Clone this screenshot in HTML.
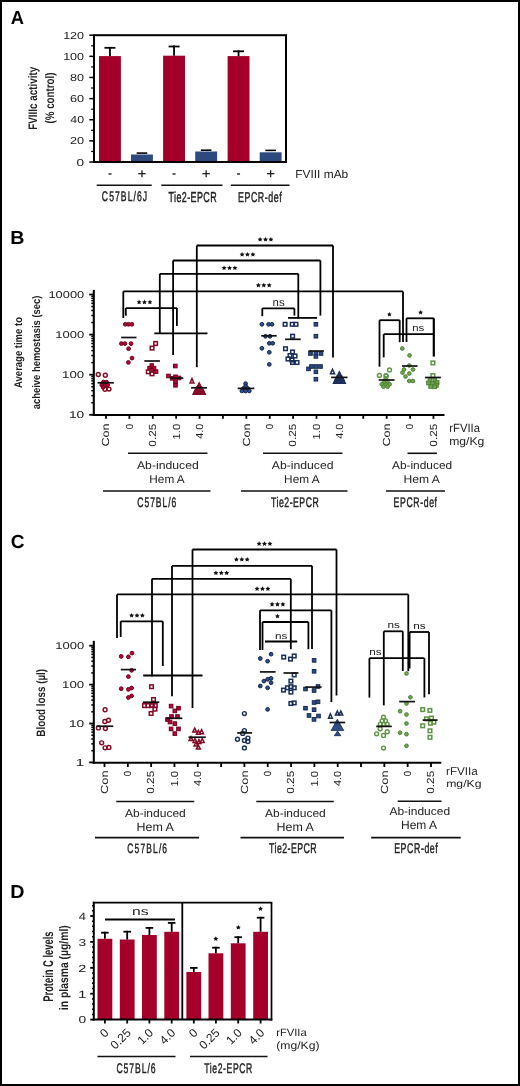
<!DOCTYPE html>
<html><head><meta charset="utf-8"><style>
html,body{margin:0;padding:0;background:#fff;}
body{width:520px;height:1086px;overflow:hidden;font-family:"Liberation Sans",sans-serif;}
svg{display:block;will-change:transform;}
</style></head><body>
<svg width="520" height="1086" viewBox="0 0 520 1086" text-rendering="geometricPrecision">
<rect x="0" y="0" width="520" height="1086" fill="#fff"/>
<text x="10.84" y="23.50" font-family='"Liberation Sans", sans-serif' font-size="19.04" font-weight="bold" fill="#000" textLength="13.24" lengthAdjust="spacingAndGlyphs">A</text>
<text x="10.18" y="244.20" font-family='"Liberation Sans", sans-serif' font-size="18.75" font-weight="bold" fill="#000" textLength="14.21" lengthAdjust="spacingAndGlyphs">B</text>
<text x="10.72" y="548.41" font-family='"Liberation Sans", sans-serif' font-size="18.93" font-weight="bold" fill="#000" textLength="13.80" lengthAdjust="spacingAndGlyphs">C</text>
<text x="10.18" y="898.10" font-family='"Liberation Sans", sans-serif' font-size="18.75" font-weight="bold" fill="#000" textLength="14.25" lengthAdjust="spacingAndGlyphs">D</text>
<rect x="99.00" y="56.10" width="21.90" height="105.90" fill="#A4002A"/>
<line x1="109.95" y1="46.90" x2="109.95" y2="56.10" stroke="#000" stroke-width="1.8"/>
<line x1="104.45" y1="47.80" x2="115.45" y2="47.80" stroke="#000" stroke-width="1.8"/>
<rect x="163.10" y="55.70" width="21.90" height="106.30" fill="#A4002A"/>
<line x1="174.05" y1="45.60" x2="174.05" y2="55.70" stroke="#000" stroke-width="1.8"/>
<line x1="168.55" y1="46.50" x2="179.55" y2="46.50" stroke="#000" stroke-width="1.8"/>
<rect x="227.60" y="56.10" width="21.90" height="105.90" fill="#A4002A"/>
<line x1="238.55" y1="50.40" x2="238.55" y2="56.10" stroke="#000" stroke-width="1.8"/>
<line x1="233.05" y1="51.30" x2="244.05" y2="51.30" stroke="#000" stroke-width="1.8"/>
<rect x="131.00" y="154.50" width="21.90" height="7.50" fill="#2C4A7E"/>
<line x1="136.65" y1="153.10" x2="147.25" y2="153.10" stroke="#000" stroke-width="1.6"/>
<rect x="195.20" y="151.50" width="21.90" height="10.50" fill="#2C4A7E"/>
<line x1="200.85" y1="150.20" x2="211.45" y2="150.20" stroke="#000" stroke-width="1.6"/>
<rect x="259.70" y="152.30" width="21.90" height="9.70" fill="#2C4A7E"/>
<line x1="265.35" y1="150.40" x2="275.95" y2="150.40" stroke="#000" stroke-width="1.6"/>
<rect x="94" y="35.2" width="192" height="126.8" fill="none" stroke="#000" stroke-width="2"/>
<line x1="89.30" y1="162.00" x2="94.00" y2="162.00" stroke="#000" stroke-width="1.5"/>
<line x1="91.20" y1="151.43" x2="94.00" y2="151.43" stroke="#000" stroke-width="1.3"/>
<line x1="89.30" y1="140.87" x2="94.00" y2="140.87" stroke="#000" stroke-width="1.5"/>
<line x1="91.20" y1="130.30" x2="94.00" y2="130.30" stroke="#000" stroke-width="1.3"/>
<line x1="89.30" y1="119.73" x2="94.00" y2="119.73" stroke="#000" stroke-width="1.5"/>
<line x1="91.20" y1="109.17" x2="94.00" y2="109.17" stroke="#000" stroke-width="1.3"/>
<line x1="89.30" y1="98.60" x2="94.00" y2="98.60" stroke="#000" stroke-width="1.5"/>
<line x1="91.20" y1="88.03" x2="94.00" y2="88.03" stroke="#000" stroke-width="1.3"/>
<line x1="89.30" y1="77.47" x2="94.00" y2="77.47" stroke="#000" stroke-width="1.5"/>
<line x1="91.20" y1="66.90" x2="94.00" y2="66.90" stroke="#000" stroke-width="1.3"/>
<line x1="89.30" y1="56.33" x2="94.00" y2="56.33" stroke="#000" stroke-width="1.5"/>
<line x1="91.20" y1="45.77" x2="94.00" y2="45.77" stroke="#000" stroke-width="1.3"/>
<line x1="89.30" y1="35.20" x2="94.00" y2="35.20" stroke="#000" stroke-width="1.5"/>
<text x="76.57" y="165.50" font-family='"Liberation Sans", sans-serif' font-size="10.17" font-weight="normal" fill="#222" textLength="7.56" lengthAdjust="spacingAndGlyphs">0</text>
<text x="69.96" y="144.36" font-family='"Liberation Sans", sans-serif' font-size="10.17" font-weight="normal" fill="#222" textLength="14.13" lengthAdjust="spacingAndGlyphs">20</text>
<text x="70.32" y="123.23" font-family='"Liberation Sans", sans-serif' font-size="10.17" font-weight="normal" fill="#222" textLength="13.77" lengthAdjust="spacingAndGlyphs">40</text>
<text x="69.95" y="102.10" font-family='"Liberation Sans", sans-serif' font-size="10.17" font-weight="normal" fill="#222" textLength="14.15" lengthAdjust="spacingAndGlyphs">60</text>
<text x="70.06" y="80.96" font-family='"Liberation Sans", sans-serif' font-size="10.17" font-weight="normal" fill="#222" textLength="14.04" lengthAdjust="spacingAndGlyphs">80</text>
<text x="63.15" y="59.83" font-family='"Liberation Sans", sans-serif' font-size="10.17" font-weight="normal" fill="#222" textLength="20.95" lengthAdjust="spacingAndGlyphs">100</text>
<text x="63.15" y="38.70" font-family='"Liberation Sans", sans-serif' font-size="10.17" font-weight="normal" fill="#222" textLength="20.95" lengthAdjust="spacingAndGlyphs">120</text>
<text transform="translate(36.64,129.86) rotate(-90)" x="0" y="0" font-family='"Liberation Sans", sans-serif' font-size="12.33" font-weight="bold" fill="#222" textLength="63.02" lengthAdjust="spacingAndGlyphs">FVIIIc activity</text>
<text transform="translate(53.61,123.49) rotate(-90)" x="0" y="0" font-family='"Liberation Sans", sans-serif' font-size="12.43" font-weight="bold" fill="#222" textLength="50.97" lengthAdjust="spacingAndGlyphs">(% control)</text>
<rect x="108.45" y="173.30" width="3.00" height="1.40" fill="#222"/>
<rect x="172.55" y="173.30" width="3.00" height="1.40" fill="#222"/>
<rect x="237.05" y="173.30" width="3.00" height="1.40" fill="#222"/>
<rect x="138.25" y="173.00" width="7.40" height="1.30" fill="#222"/>
<rect x="141.30" y="170.20" width="1.30" height="7.00" fill="#222"/>
<rect x="202.45" y="173.00" width="7.40" height="1.30" fill="#222"/>
<rect x="205.50" y="170.20" width="1.30" height="7.00" fill="#222"/>
<rect x="266.95" y="173.00" width="7.40" height="1.30" fill="#222"/>
<rect x="270.00" y="170.20" width="1.30" height="7.00" fill="#222"/>
<text x="295.32" y="177.58" font-family='"Liberation Sans", sans-serif' font-size="11.56" font-weight="normal" fill="#222" textLength="52.88" lengthAdjust="spacingAndGlyphs">FVIII mAb</text>
<line x1="96.70" y1="185.20" x2="151.70" y2="185.20" stroke="#111" stroke-width="1.5"/>
<line x1="161.30" y1="185.20" x2="222.50" y2="185.20" stroke="#111" stroke-width="1.5"/>
<line x1="230.80" y1="185.20" x2="289.50" y2="185.20" stroke="#111" stroke-width="1.5"/>
<text transform="scale(0.62,1)" x="164.29" y="200.66" font-family='"Liberation Sans", sans-serif' font-size="13.88" font-weight="normal" fill="#222" stroke="#222" stroke-width="0.45" textLength="73.02" lengthAdjust="spacing">C57BL/6J</text>
<text transform="scale(0.62,1)" x="271.78" y="201.76" font-family='"Liberation Sans", sans-serif' font-size="14.42" font-weight="normal" fill="#222" stroke="#222" stroke-width="0.45" textLength="77.62" lengthAdjust="spacing">Tie2-EPCR</text>
<text transform="scale(0.62,1)" x="383.83" y="201.76" font-family='"Liberation Sans", sans-serif' font-size="14.29" font-weight="normal" fill="#222" stroke="#222" stroke-width="0.45" textLength="70.67" lengthAdjust="spacing">EPCR-def</text>
<line x1="93.80" y1="289.90" x2="93.80" y2="416.00" stroke="#000" stroke-width="2.1"/>
<line x1="92.80" y1="415.00" x2="444.50" y2="415.00" stroke="#000" stroke-width="2.1"/>
<line x1="89.20" y1="414.80" x2="93.80" y2="414.80" stroke="#000" stroke-width="1.8"/>
<line x1="91.30" y1="402.73" x2="93.80" y2="402.73" stroke="#000" stroke-width="1.5"/>
<line x1="91.30" y1="395.67" x2="93.80" y2="395.67" stroke="#000" stroke-width="1.5"/>
<line x1="91.30" y1="390.66" x2="93.80" y2="390.66" stroke="#000" stroke-width="1.5"/>
<line x1="91.30" y1="386.77" x2="93.80" y2="386.77" stroke="#000" stroke-width="1.5"/>
<line x1="91.30" y1="383.60" x2="93.80" y2="383.60" stroke="#000" stroke-width="1.5"/>
<line x1="91.30" y1="380.91" x2="93.80" y2="380.91" stroke="#000" stroke-width="1.5"/>
<line x1="91.30" y1="378.59" x2="93.80" y2="378.59" stroke="#000" stroke-width="1.5"/>
<line x1="91.30" y1="376.53" x2="93.80" y2="376.53" stroke="#000" stroke-width="1.5"/>
<line x1="89.20" y1="374.70" x2="93.80" y2="374.70" stroke="#000" stroke-width="1.8"/>
<line x1="91.30" y1="362.63" x2="93.80" y2="362.63" stroke="#000" stroke-width="1.5"/>
<line x1="91.30" y1="355.57" x2="93.80" y2="355.57" stroke="#000" stroke-width="1.5"/>
<line x1="91.30" y1="350.56" x2="93.80" y2="350.56" stroke="#000" stroke-width="1.5"/>
<line x1="91.30" y1="346.67" x2="93.80" y2="346.67" stroke="#000" stroke-width="1.5"/>
<line x1="91.30" y1="343.50" x2="93.80" y2="343.50" stroke="#000" stroke-width="1.5"/>
<line x1="91.30" y1="340.81" x2="93.80" y2="340.81" stroke="#000" stroke-width="1.5"/>
<line x1="91.30" y1="338.49" x2="93.80" y2="338.49" stroke="#000" stroke-width="1.5"/>
<line x1="91.30" y1="336.43" x2="93.80" y2="336.43" stroke="#000" stroke-width="1.5"/>
<line x1="89.20" y1="334.60" x2="93.80" y2="334.60" stroke="#000" stroke-width="1.8"/>
<line x1="91.30" y1="322.53" x2="93.80" y2="322.53" stroke="#000" stroke-width="1.5"/>
<line x1="91.30" y1="315.47" x2="93.80" y2="315.47" stroke="#000" stroke-width="1.5"/>
<line x1="91.30" y1="310.46" x2="93.80" y2="310.46" stroke="#000" stroke-width="1.5"/>
<line x1="91.30" y1="306.57" x2="93.80" y2="306.57" stroke="#000" stroke-width="1.5"/>
<line x1="91.30" y1="303.40" x2="93.80" y2="303.40" stroke="#000" stroke-width="1.5"/>
<line x1="91.30" y1="300.71" x2="93.80" y2="300.71" stroke="#000" stroke-width="1.5"/>
<line x1="91.30" y1="298.39" x2="93.80" y2="298.39" stroke="#000" stroke-width="1.5"/>
<line x1="91.30" y1="296.33" x2="93.80" y2="296.33" stroke="#000" stroke-width="1.5"/>
<line x1="89.20" y1="294.50" x2="93.80" y2="294.50" stroke="#000" stroke-width="1.8"/>
<text x="68.96" y="418.20" font-family='"Liberation Sans", sans-serif' font-size="9.89" font-weight="normal" fill="#222" textLength="15.28" lengthAdjust="spacingAndGlyphs">10</text>
<text x="62.14" y="378.10" font-family='"Liberation Sans", sans-serif' font-size="9.89" font-weight="normal" fill="#222" textLength="22.08" lengthAdjust="spacingAndGlyphs">100</text>
<text x="55.31" y="338.00" font-family='"Liberation Sans", sans-serif' font-size="9.89" font-weight="normal" fill="#222" textLength="28.90" lengthAdjust="spacingAndGlyphs">1000</text>
<text x="48.47" y="297.90" font-family='"Liberation Sans", sans-serif' font-size="9.89" font-weight="normal" fill="#222" textLength="35.72" lengthAdjust="spacingAndGlyphs">10000</text>
<text transform="translate(22.17,387.94) rotate(-90)" x="0" y="0" font-family='"Liberation Sans", sans-serif' font-size="10.99" font-weight="bold" fill="#222" textLength="70.90" lengthAdjust="spacingAndGlyphs">Average time to</text>
<text transform="translate(39.60,409.27) rotate(-90)" x="0" y="0" font-family='"Liberation Sans", sans-serif' font-size="11.04" font-weight="bold" fill="#222" textLength="113.65" lengthAdjust="spacingAndGlyphs">acheive hemostasis (sec)</text>
<line x1="106.00" y1="415.00" x2="106.00" y2="418.80" stroke="#000" stroke-width="1.8"/>
<line x1="129.39" y1="415.00" x2="129.39" y2="418.80" stroke="#000" stroke-width="1.8"/>
<line x1="152.78" y1="415.00" x2="152.78" y2="418.80" stroke="#000" stroke-width="1.8"/>
<line x1="176.17" y1="415.00" x2="176.17" y2="418.80" stroke="#000" stroke-width="1.8"/>
<line x1="199.56" y1="415.00" x2="199.56" y2="418.80" stroke="#000" stroke-width="1.8"/>
<line x1="222.95" y1="415.00" x2="222.95" y2="418.80" stroke="#000" stroke-width="1.8"/>
<line x1="246.34" y1="415.00" x2="246.34" y2="418.80" stroke="#000" stroke-width="1.8"/>
<line x1="269.73" y1="415.00" x2="269.73" y2="418.80" stroke="#000" stroke-width="1.8"/>
<line x1="293.12" y1="415.00" x2="293.12" y2="418.80" stroke="#000" stroke-width="1.8"/>
<line x1="316.51" y1="415.00" x2="316.51" y2="418.80" stroke="#000" stroke-width="1.8"/>
<line x1="339.90" y1="415.00" x2="339.90" y2="418.80" stroke="#000" stroke-width="1.8"/>
<line x1="363.29" y1="415.00" x2="363.29" y2="418.80" stroke="#000" stroke-width="1.8"/>
<line x1="386.68" y1="415.00" x2="386.68" y2="418.80" stroke="#000" stroke-width="1.8"/>
<line x1="410.07" y1="415.00" x2="410.07" y2="418.80" stroke="#000" stroke-width="1.8"/>
<line x1="433.46" y1="415.00" x2="433.46" y2="418.80" stroke="#000" stroke-width="1.8"/>
<text transform="translate(109.35,446.54) rotate(-90)" x="0" y="0" font-family='"Liberation Sans", sans-serif' font-size="10.31" font-weight="normal" fill="#222" textLength="23.17" lengthAdjust="spacingAndGlyphs">Con</text>
<text transform="translate(132.74,429.18) rotate(-90)" x="0" y="0" font-family='"Liberation Sans", sans-serif' font-size="10.31" font-weight="normal" fill="#222" textLength="5.35" lengthAdjust="spacingAndGlyphs">0</text>
<text transform="translate(156.13,446.66) rotate(-90)" x="0" y="0" font-family='"Liberation Sans", sans-serif' font-size="10.31" font-weight="normal" fill="#222" textLength="22.96" lengthAdjust="spacingAndGlyphs">0.25</text>
<text transform="translate(179.52,439.46) rotate(-90)" x="0" y="0" font-family='"Liberation Sans", sans-serif' font-size="10.31" font-weight="normal" fill="#222" textLength="15.70" lengthAdjust="spacingAndGlyphs">1.0</text>
<text transform="translate(202.91,438.85) rotate(-90)" x="0" y="0" font-family='"Liberation Sans", sans-serif' font-size="10.31" font-weight="normal" fill="#222" textLength="15.07" lengthAdjust="spacingAndGlyphs">4.0</text>
<text transform="translate(249.69,446.54) rotate(-90)" x="0" y="0" font-family='"Liberation Sans", sans-serif' font-size="10.31" font-weight="normal" fill="#222" textLength="23.17" lengthAdjust="spacingAndGlyphs">Con</text>
<text transform="translate(273.08,429.18) rotate(-90)" x="0" y="0" font-family='"Liberation Sans", sans-serif' font-size="10.31" font-weight="normal" fill="#222" textLength="5.35" lengthAdjust="spacingAndGlyphs">0</text>
<text transform="translate(296.47,446.66) rotate(-90)" x="0" y="0" font-family='"Liberation Sans", sans-serif' font-size="10.31" font-weight="normal" fill="#222" textLength="22.96" lengthAdjust="spacingAndGlyphs">0.25</text>
<text transform="translate(319.86,439.46) rotate(-90)" x="0" y="0" font-family='"Liberation Sans", sans-serif' font-size="10.31" font-weight="normal" fill="#222" textLength="15.70" lengthAdjust="spacingAndGlyphs">1.0</text>
<text transform="translate(343.25,438.85) rotate(-90)" x="0" y="0" font-family='"Liberation Sans", sans-serif' font-size="10.31" font-weight="normal" fill="#222" textLength="15.07" lengthAdjust="spacingAndGlyphs">4.0</text>
<text transform="translate(390.03,446.54) rotate(-90)" x="0" y="0" font-family='"Liberation Sans", sans-serif' font-size="10.31" font-weight="normal" fill="#222" textLength="23.17" lengthAdjust="spacingAndGlyphs">Con</text>
<text transform="translate(413.42,429.18) rotate(-90)" x="0" y="0" font-family='"Liberation Sans", sans-serif' font-size="10.31" font-weight="normal" fill="#222" textLength="5.35" lengthAdjust="spacingAndGlyphs">0</text>
<text transform="translate(436.81,446.66) rotate(-90)" x="0" y="0" font-family='"Liberation Sans", sans-serif' font-size="10.31" font-weight="normal" fill="#222" textLength="22.96" lengthAdjust="spacingAndGlyphs">0.25</text>
<text x="449.25" y="431.68" font-family='"Liberation Sans", sans-serif' font-size="11.89" font-weight="normal" fill="#222" textLength="30.74" lengthAdjust="spacingAndGlyphs">rFVIIa</text>
<text x="449.20" y="445.48" font-family='"Liberation Sans", sans-serif' font-size="11.15" font-weight="normal" fill="#222" textLength="35.18" lengthAdjust="spacingAndGlyphs">mg/Kg</text>
<line x1="128.00" y1="453.30" x2="207.50" y2="453.30" stroke="#111" stroke-width="1.6"/>
<line x1="263.00" y1="453.30" x2="342.50" y2="453.30" stroke="#111" stroke-width="1.6"/>
<line x1="407.50" y1="453.30" x2="436.90" y2="453.30" stroke="#111" stroke-width="1.6"/>
<text x="136.98" y="468.89" font-family='"Liberation Sans", sans-serif' font-size="11.16" font-weight="normal" fill="#222" textLength="61.81" lengthAdjust="spacingAndGlyphs">Ab-induced</text>
<text x="149.33" y="482.89" font-family='"Liberation Sans", sans-serif' font-size="11.46" font-weight="normal" fill="#222" textLength="35.39" lengthAdjust="spacingAndGlyphs">Hem A</text>
<text x="271.78" y="468.89" font-family='"Liberation Sans", sans-serif' font-size="11.16" font-weight="normal" fill="#222" textLength="61.81" lengthAdjust="spacingAndGlyphs">Ab-induced</text>
<text x="284.13" y="482.89" font-family='"Liberation Sans", sans-serif' font-size="11.46" font-weight="normal" fill="#222" textLength="35.39" lengthAdjust="spacingAndGlyphs">Hem A</text>
<text x="391.98" y="468.89" font-family='"Liberation Sans", sans-serif' font-size="11.16" font-weight="normal" fill="#222" textLength="60.19" lengthAdjust="spacingAndGlyphs">Ab-induced</text>
<text x="403.51" y="482.89" font-family='"Liberation Sans", sans-serif' font-size="11.46" font-weight="normal" fill="#222" textLength="36.32" lengthAdjust="spacingAndGlyphs">Hem A</text>
<line x1="103.00" y1="491.00" x2="210.50" y2="491.00" stroke="#111" stroke-width="1.6"/>
<line x1="241.00" y1="491.00" x2="347.50" y2="491.00" stroke="#111" stroke-width="1.6"/>
<line x1="386.00" y1="491.00" x2="445.00" y2="491.00" stroke="#111" stroke-width="1.6"/>
<text transform="scale(0.62,1)" x="221.56" y="506.96" font-family='"Liberation Sans", sans-serif' font-size="13.74" font-weight="normal" fill="#222" stroke="#222" stroke-width="0.45" textLength="62.77" lengthAdjust="spacing">C57BL/6</text>
<text transform="scale(0.62,1)" x="437.27" y="507.06" font-family='"Liberation Sans", sans-serif' font-size="14.01" font-weight="normal" fill="#222" stroke="#222" stroke-width="0.45" textLength="76.78" lengthAdjust="spacing">Tie2-EPCR</text>
<text transform="scale(0.62,1)" x="634.82" y="507.06" font-family='"Liberation Sans", sans-serif' font-size="14.01" font-weight="normal" fill="#222" stroke="#222" stroke-width="0.45" textLength="70.00" lengthAdjust="spacing">EPCR-def</text>
<line x1="196.80" y1="245.50" x2="333.00" y2="245.50" stroke="#000" stroke-width="1.8"/>
<line x1="196.80" y1="245.50" x2="196.80" y2="367.20" stroke="#000" stroke-width="1.8"/>
<line x1="333.00" y1="245.50" x2="333.00" y2="357.60" stroke="#000" stroke-width="1.8"/>
<polygon points="260.10,236.90 260.86,238.45 262.57,238.70 261.34,239.90 261.63,241.60 260.10,240.80 258.57,241.60 258.86,239.90 257.63,238.70 259.34,238.45" fill="#111"/>
<polygon points="265.50,236.90 266.26,238.45 267.97,238.70 266.74,239.90 267.03,241.60 265.50,240.80 263.97,241.60 264.26,239.90 263.03,238.70 264.74,238.45" fill="#111"/>
<polygon points="270.90,236.90 271.66,238.45 273.37,238.70 272.14,239.90 272.43,241.60 270.90,240.80 269.37,241.60 269.66,239.90 268.43,238.70 270.14,238.45" fill="#111"/>
<line x1="173.10" y1="260.50" x2="320.40" y2="260.50" stroke="#000" stroke-width="1.8"/>
<line x1="173.10" y1="260.50" x2="173.10" y2="355.00" stroke="#000" stroke-width="1.8"/>
<line x1="320.40" y1="260.50" x2="320.40" y2="315.60" stroke="#000" stroke-width="1.8"/>
<polygon points="242.10,251.90 242.86,253.45 244.57,253.70 243.34,254.90 243.63,256.60 242.10,255.80 240.57,256.60 240.86,254.90 239.63,253.70 241.34,253.45" fill="#111"/>
<polygon points="247.50,251.90 248.26,253.45 249.97,253.70 248.74,254.90 249.03,256.60 247.50,255.80 245.97,256.60 246.26,254.90 245.03,253.70 246.74,253.45" fill="#111"/>
<polygon points="252.90,251.90 253.66,253.45 255.37,253.70 254.14,254.90 254.43,256.60 252.90,255.80 251.37,256.60 251.66,254.90 250.43,253.70 252.14,253.45" fill="#111"/>
<line x1="159.80" y1="273.80" x2="298.30" y2="273.80" stroke="#000" stroke-width="1.8"/>
<line x1="159.80" y1="273.80" x2="159.80" y2="333.50" stroke="#000" stroke-width="1.8"/>
<line x1="298.30" y1="273.80" x2="298.30" y2="318.50" stroke="#000" stroke-width="1.8"/>
<polygon points="224.10,265.40 224.86,266.95 226.57,267.20 225.34,268.40 225.63,270.10 224.10,269.30 222.57,270.10 222.86,268.40 221.63,267.20 223.34,266.95" fill="#111"/>
<polygon points="229.50,265.40 230.26,266.95 231.97,267.20 230.74,268.40 231.03,270.10 229.50,269.30 227.97,270.10 228.26,268.40 227.03,267.20 228.74,266.95" fill="#111"/>
<polygon points="234.90,265.40 235.66,266.95 237.37,267.20 236.14,268.40 236.43,270.10 234.90,269.30 233.37,270.10 233.66,268.40 232.43,267.20 234.14,266.95" fill="#111"/>
<line x1="123.30" y1="291.40" x2="403.00" y2="291.40" stroke="#000" stroke-width="1.8"/>
<line x1="123.30" y1="291.40" x2="123.30" y2="318.00" stroke="#000" stroke-width="1.8"/>
<line x1="403.00" y1="291.40" x2="403.00" y2="342.00" stroke="#000" stroke-width="1.8"/>
<polygon points="258.40,282.70 259.16,284.25 260.87,284.50 259.64,285.70 259.93,287.40 258.40,286.60 256.87,287.40 257.16,285.70 255.93,284.50 257.64,284.25" fill="#111"/>
<polygon points="263.80,282.70 264.56,284.25 266.27,284.50 265.04,285.70 265.33,287.40 263.80,286.60 262.27,287.40 262.56,285.70 261.33,284.50 263.04,284.25" fill="#111"/>
<polygon points="269.20,282.70 269.96,284.25 271.67,284.50 270.44,285.70 270.73,287.40 269.20,286.60 267.67,287.40 267.96,285.70 266.73,284.50 268.44,284.25" fill="#111"/>
<line x1="125.80" y1="308.10" x2="176.90" y2="308.10" stroke="#000" stroke-width="1.8"/>
<line x1="125.80" y1="308.10" x2="125.80" y2="315.70" stroke="#000" stroke-width="1.8"/>
<line x1="176.90" y1="308.10" x2="176.90" y2="326.00" stroke="#000" stroke-width="1.8"/>
<polygon points="139.10,299.60 139.86,301.15 141.57,301.40 140.34,302.60 140.63,304.30 139.10,303.50 137.57,304.30 137.86,302.60 136.63,301.40 138.34,301.15" fill="#111"/>
<polygon points="144.50,299.60 145.26,301.15 146.97,301.40 145.74,302.60 146.03,304.30 144.50,303.50 142.97,304.30 143.26,302.60 142.03,301.40 143.74,301.15" fill="#111"/>
<polygon points="149.90,299.60 150.66,301.15 152.37,301.40 151.14,302.60 151.43,304.30 149.90,303.50 148.37,304.30 148.66,302.60 147.43,301.40 149.14,301.15" fill="#111"/>
<line x1="154.30" y1="333.40" x2="207.50" y2="333.40" stroke="#000" stroke-width="1.8"/>
<line x1="262.30" y1="308.30" x2="294.40" y2="308.30" stroke="#000" stroke-width="1.8"/>
<line x1="262.30" y1="308.30" x2="262.30" y2="316.20" stroke="#000" stroke-width="1.8"/>
<line x1="294.40" y1="308.30" x2="294.40" y2="315.60" stroke="#000" stroke-width="1.8"/>
<text x="272.55" y="305.89" font-family='"Liberation Sans", sans-serif' font-size="10.95" font-weight="normal" fill="#222" textLength="12.07" lengthAdjust="spacingAndGlyphs">ns</text>
<line x1="288.00" y1="317.90" x2="317.00" y2="317.90" stroke="#000" stroke-width="1.8"/>
<line x1="379.50" y1="320.20" x2="399.70" y2="320.20" stroke="#000" stroke-width="1.8"/>
<line x1="379.50" y1="320.20" x2="379.50" y2="366.70" stroke="#000" stroke-width="1.8"/>
<line x1="399.70" y1="320.20" x2="399.70" y2="342.20" stroke="#000" stroke-width="1.8"/>
<polygon points="389.40,311.90 390.13,313.39 391.78,313.63 390.59,314.79 390.87,316.42 389.40,315.65 387.93,316.42 388.21,314.79 387.02,313.63 388.67,313.39" fill="#111"/>
<line x1="406.50" y1="318.30" x2="433.80" y2="318.30" stroke="#000" stroke-width="1.8"/>
<line x1="406.50" y1="318.30" x2="406.50" y2="342.00" stroke="#000" stroke-width="1.8"/>
<line x1="433.80" y1="318.30" x2="433.80" y2="356.60" stroke="#000" stroke-width="2.2"/>
<polygon points="420.60,310.10 421.33,311.59 422.98,311.83 421.79,312.99 422.07,314.62 420.60,313.85 419.13,314.62 419.41,312.99 418.22,311.83 419.87,311.59" fill="#111"/>
<line x1="383.70" y1="334.20" x2="433.80" y2="334.20" stroke="#000" stroke-width="1.8"/>
<line x1="383.70" y1="334.20" x2="383.70" y2="357.40" stroke="#000" stroke-width="1.8"/>
<text x="412.15" y="331.11" font-family='"Liberation Sans", sans-serif' font-size="9.49" font-weight="normal" fill="#222" textLength="12.07" lengthAdjust="spacingAndGlyphs">ns</text>
<circle cx="98.30" cy="374.50" r="1.95" fill="none" stroke="#850A26" stroke-width="1.45"/>
<circle cx="105.30" cy="375.30" r="1.95" fill="none" stroke="#850A26" stroke-width="1.45"/>
<circle cx="103.50" cy="382.00" r="1.88" fill="#B8083A" stroke="#6E0019" stroke-width="1.0"/>
<circle cx="106.50" cy="382.20" r="1.88" fill="#B8083A" stroke="#6E0019" stroke-width="1.0"/>
<circle cx="101.80" cy="385.00" r="1.88" fill="#B8083A" stroke="#6E0019" stroke-width="1.0"/>
<circle cx="104.80" cy="385.30" r="1.88" fill="#B8083A" stroke="#6E0019" stroke-width="1.0"/>
<circle cx="107.60" cy="385.00" r="1.88" fill="#B8083A" stroke="#6E0019" stroke-width="1.0"/>
<circle cx="103.20" cy="387.30" r="1.88" fill="#B8083A" stroke="#6E0019" stroke-width="1.0"/>
<circle cx="105.00" cy="389.30" r="1.95" fill="none" stroke="#850A26" stroke-width="1.45"/>
<circle cx="109.00" cy="389.10" r="1.95" fill="none" stroke="#850A26" stroke-width="1.45"/>
<line x1="97.50" y1="382.80" x2="113.80" y2="382.80" stroke="#111" stroke-width="1.7"/>
<circle cx="125.30" cy="324.30" r="1.88" fill="#B8083A" stroke="#6E0019" stroke-width="1.0"/>
<circle cx="128.50" cy="324.30" r="1.88" fill="#B8083A" stroke="#6E0019" stroke-width="1.0"/>
<circle cx="131.80" cy="324.30" r="1.88" fill="#B8083A" stroke="#6E0019" stroke-width="1.0"/>
<circle cx="121.40" cy="343.60" r="1.88" fill="#B8083A" stroke="#6E0019" stroke-width="1.0"/>
<circle cx="124.90" cy="343.60" r="1.88" fill="#B8083A" stroke="#6E0019" stroke-width="1.0"/>
<circle cx="131.10" cy="343.60" r="1.88" fill="#B8083A" stroke="#6E0019" stroke-width="1.0"/>
<circle cx="128.60" cy="348.70" r="1.88" fill="#B8083A" stroke="#6E0019" stroke-width="1.0"/>
<circle cx="132.00" cy="358.10" r="1.88" fill="#B8083A" stroke="#6E0019" stroke-width="1.0"/>
<circle cx="128.40" cy="362.40" r="1.88" fill="#B8083A" stroke="#6E0019" stroke-width="1.0"/>
<line x1="121.20" y1="337.50" x2="136.50" y2="337.50" stroke="#111" stroke-width="1.7"/>
<rect x="153.80" y="341.70" width="3.60" height="3.60" fill="none" stroke="#850A26" stroke-width="1.5"/>
<rect x="150.30" y="346.30" width="3.60" height="3.60" fill="none" stroke="#850A26" stroke-width="1.5"/>
<rect x="150.00" y="363.80" width="3.60" height="3.60" fill="#B8083A" stroke="#6E0019" stroke-width="1.0"/>
<rect x="147.80" y="366.40" width="3.60" height="3.60" fill="#B8083A" stroke="#6E0019" stroke-width="1.0"/>
<rect x="152.20" y="366.40" width="3.60" height="3.60" fill="#B8083A" stroke="#6E0019" stroke-width="1.0"/>
<rect x="150.00" y="368.40" width="3.60" height="3.60" fill="#B8083A" stroke="#6E0019" stroke-width="1.0"/>
<rect x="154.20" y="369.80" width="3.60" height="3.60" fill="#B8083A" stroke="#6E0019" stroke-width="1.0"/>
<rect x="146.50" y="370.00" width="3.60" height="3.60" fill="none" stroke="#850A26" stroke-width="1.5"/>
<rect x="150.20" y="372.00" width="3.60" height="3.60" fill="none" stroke="#850A26" stroke-width="1.5"/>
<line x1="144.30" y1="361.00" x2="159.90" y2="361.00" stroke="#111" stroke-width="1.7"/>
<rect x="173.50" y="364.20" width="3.60" height="3.60" fill="#B8083A" stroke="#6E0019" stroke-width="1.0"/>
<rect x="166.70" y="374.20" width="3.60" height="3.60" fill="#B8083A" stroke="#6E0019" stroke-width="1.0"/>
<rect x="170.40" y="376.50" width="3.60" height="3.60" fill="#B8083A" stroke="#6E0019" stroke-width="1.0"/>
<rect x="173.70" y="375.00" width="3.60" height="3.60" fill="#B8083A" stroke="#6E0019" stroke-width="1.0"/>
<rect x="177.20" y="376.20" width="3.60" height="3.60" fill="#B8083A" stroke="#6E0019" stroke-width="1.0"/>
<rect x="173.70" y="379.70" width="3.60" height="3.60" fill="#B8083A" stroke="#6E0019" stroke-width="1.0"/>
<rect x="173.70" y="383.50" width="3.60" height="3.60" fill="#B8083A" stroke="#6E0019" stroke-width="1.0"/>
<line x1="170.30" y1="378.10" x2="183.30" y2="378.10" stroke="#111" stroke-width="1.7"/>
<polygon points="192.00,378.58 190.10,382.93 193.90,382.93" fill="none" stroke="#850A26" stroke-width="1.5" stroke-linejoin="miter"/>
<polygon points="199.20,383.00 194.00,394.00 204.40,394.00" fill="#B8083A" stroke="#6E0019" stroke-width="0.8" stroke-linejoin="round"/>
<polygon points="199.20,383.00 197.30,386.95 201.10,386.95" fill="none" stroke="#850A26" stroke-width="1.5" stroke-linejoin="miter"/>
<polygon points="196.60,387.60 194.70,391.55 198.50,391.55" fill="none" stroke="#850A26" stroke-width="1.5" stroke-linejoin="miter"/>
<polygon points="201.80,387.60 199.90,391.55 203.70,391.55" fill="none" stroke="#850A26" stroke-width="1.5" stroke-linejoin="miter"/>
<polygon points="195.00,390.40 193.10,394.35 196.90,394.35" fill="none" stroke="#850A26" stroke-width="1.5" stroke-linejoin="miter"/>
<polygon points="199.20,390.40 197.30,394.35 201.10,394.35" fill="none" stroke="#850A26" stroke-width="1.5" stroke-linejoin="miter"/>
<polygon points="203.40,390.40 201.50,394.35 205.30,394.35" fill="none" stroke="#850A26" stroke-width="1.5" stroke-linejoin="miter"/>
<line x1="191.10" y1="387.80" x2="207.00" y2="387.80" stroke="#111" stroke-width="1.7"/>
<circle cx="245.60" cy="383.60" r="1.88" fill="#2F4E88" stroke="#17284C" stroke-width="1.0"/>
<circle cx="245.60" cy="386.30" r="1.88" fill="#2F4E88" stroke="#17284C" stroke-width="1.0"/>
<circle cx="243.40" cy="388.50" r="1.88" fill="#2F4E88" stroke="#17284C" stroke-width="1.0"/>
<circle cx="247.80" cy="388.50" r="1.88" fill="#2F4E88" stroke="#17284C" stroke-width="1.0"/>
<circle cx="241.90" cy="390.90" r="1.88" fill="#2F4E88" stroke="#17284C" stroke-width="1.0"/>
<circle cx="245.60" cy="391.00" r="1.88" fill="#2F4E88" stroke="#17284C" stroke-width="1.0"/>
<circle cx="249.30" cy="390.90" r="1.88" fill="#2F4E88" stroke="#17284C" stroke-width="1.0"/>
<line x1="237.70" y1="388.40" x2="254.30" y2="388.40" stroke="#111" stroke-width="1.7"/>
<circle cx="261.90" cy="324.30" r="1.88" fill="#2F4E88" stroke="#17284C" stroke-width="1.0"/>
<circle cx="268.60" cy="324.30" r="1.88" fill="#2F4E88" stroke="#17284C" stroke-width="1.0"/>
<circle cx="272.00" cy="324.30" r="1.88" fill="#2F4E88" stroke="#17284C" stroke-width="1.0"/>
<circle cx="265.50" cy="336.30" r="1.88" fill="#2F4E88" stroke="#17284C" stroke-width="1.0"/>
<circle cx="270.00" cy="336.30" r="1.88" fill="#2F4E88" stroke="#17284C" stroke-width="1.0"/>
<circle cx="269.30" cy="343.30" r="1.88" fill="#2F4E88" stroke="#17284C" stroke-width="1.0"/>
<circle cx="272.70" cy="343.30" r="1.88" fill="#2F4E88" stroke="#17284C" stroke-width="1.0"/>
<circle cx="261.90" cy="348.30" r="1.88" fill="#2F4E88" stroke="#17284C" stroke-width="1.0"/>
<circle cx="269.30" cy="352.30" r="1.88" fill="#2F4E88" stroke="#17284C" stroke-width="1.0"/>
<circle cx="269.30" cy="364.40" r="1.88" fill="#2F4E88" stroke="#17284C" stroke-width="1.0"/>
<line x1="261.20" y1="335.80" x2="276.70" y2="335.80" stroke="#111" stroke-width="1.7"/>
<rect x="283.30" y="322.50" width="3.60" height="3.60" fill="none" stroke="#1A2E58" stroke-width="1.5"/>
<rect x="290.40" y="322.50" width="3.60" height="3.60" fill="none" stroke="#1A2E58" stroke-width="1.5"/>
<rect x="294.20" y="322.50" width="3.60" height="3.60" fill="none" stroke="#1A2E58" stroke-width="1.5"/>
<rect x="290.80" y="334.40" width="3.60" height="3.60" fill="none" stroke="#1A2E58" stroke-width="1.5"/>
<rect x="283.70" y="346.90" width="3.60" height="3.60" fill="none" stroke="#1A2E58" stroke-width="1.5"/>
<rect x="290.70" y="350.20" width="3.60" height="3.60" fill="none" stroke="#1A2E58" stroke-width="1.5"/>
<rect x="288.20" y="353.70" width="3.60" height="3.60" fill="none" stroke="#1A2E58" stroke-width="1.5"/>
<rect x="293.20" y="354.20" width="3.60" height="3.60" fill="none" stroke="#1A2E58" stroke-width="1.5"/>
<rect x="286.20" y="357.20" width="3.60" height="3.60" fill="none" stroke="#1A2E58" stroke-width="1.5"/>
<rect x="290.20" y="358.20" width="3.60" height="3.60" fill="none" stroke="#1A2E58" stroke-width="1.5"/>
<rect x="290.70" y="360.70" width="3.60" height="3.60" fill="none" stroke="#1A2E58" stroke-width="1.5"/>
<rect x="295.20" y="360.70" width="3.60" height="3.60" fill="none" stroke="#1A2E58" stroke-width="1.5"/>
<line x1="285.10" y1="339.30" x2="300.70" y2="339.30" stroke="#111" stroke-width="1.7"/>
<rect x="314.10" y="322.50" width="3.60" height="3.60" fill="#2F4E88" stroke="#17284C" stroke-width="1.0"/>
<rect x="314.10" y="334.40" width="3.60" height="3.60" fill="#2F4E88" stroke="#17284C" stroke-width="1.0"/>
<rect x="308.70" y="351.70" width="3.60" height="3.60" fill="#2F4E88" stroke="#17284C" stroke-width="1.0"/>
<rect x="314.10" y="351.70" width="3.60" height="3.60" fill="#2F4E88" stroke="#17284C" stroke-width="1.0"/>
<rect x="319.20" y="351.70" width="3.60" height="3.60" fill="#2F4E88" stroke="#17284C" stroke-width="1.0"/>
<rect x="314.10" y="354.60" width="3.60" height="3.60" fill="#2F4E88" stroke="#17284C" stroke-width="1.0"/>
<rect x="306.70" y="367.10" width="3.60" height="3.60" fill="#2F4E88" stroke="#17284C" stroke-width="1.0"/>
<rect x="309.70" y="364.70" width="3.60" height="3.60" fill="#2F4E88" stroke="#17284C" stroke-width="1.0"/>
<rect x="314.10" y="364.70" width="3.60" height="3.60" fill="#2F4E88" stroke="#17284C" stroke-width="1.0"/>
<rect x="318.70" y="364.70" width="3.60" height="3.60" fill="#2F4E88" stroke="#17284C" stroke-width="1.0"/>
<rect x="314.10" y="370.00" width="3.60" height="3.60" fill="#2F4E88" stroke="#17284C" stroke-width="1.0"/>
<rect x="314.10" y="377.40" width="3.60" height="3.60" fill="#2F4E88" stroke="#17284C" stroke-width="1.0"/>
<line x1="308.50" y1="351.00" x2="323.90" y2="351.00" stroke="#111" stroke-width="1.7"/>
<polygon points="332.50,369.38 330.45,373.73 334.55,373.73" fill="none" stroke="#1A2E58" stroke-width="1.5" stroke-linejoin="miter"/>
<polygon points="339.40,372.00 334.20,383.40 344.60,383.40" fill="#2F4E88" stroke="#17284C" stroke-width="0.8" stroke-linejoin="round"/>
<polygon points="339.40,371.90 337.50,375.85 341.30,375.85" fill="none" stroke="#1A2E58" stroke-width="1.5" stroke-linejoin="miter"/>
<polygon points="336.90,376.40 335.00,380.35 338.80,380.35" fill="none" stroke="#1A2E58" stroke-width="1.5" stroke-linejoin="miter"/>
<polygon points="341.90,376.40 340.00,380.35 343.80,380.35" fill="none" stroke="#1A2E58" stroke-width="1.5" stroke-linejoin="miter"/>
<polygon points="335.40,379.40 333.50,383.35 337.30,383.35" fill="none" stroke="#1A2E58" stroke-width="1.5" stroke-linejoin="miter"/>
<polygon points="339.40,379.40 337.50,383.35 341.30,383.35" fill="none" stroke="#1A2E58" stroke-width="1.5" stroke-linejoin="miter"/>
<polygon points="343.40,379.40 341.50,383.35 345.30,383.35" fill="none" stroke="#1A2E58" stroke-width="1.5" stroke-linejoin="miter"/>
<line x1="331.10" y1="377.40" x2="347.50" y2="377.40" stroke="#111" stroke-width="1.7"/>
<circle cx="389.50" cy="369.90" r="1.95" fill="none" stroke="#5E9444" stroke-width="1.45"/>
<circle cx="379.40" cy="375.40" r="1.95" fill="none" stroke="#5E9444" stroke-width="1.45"/>
<circle cx="386.20" cy="376.10" r="1.95" fill="none" stroke="#5E9444" stroke-width="1.45"/>
<circle cx="385.80" cy="378.50" r="1.88" fill="#6EA84B" stroke="#4E7F37" stroke-width="1.0"/>
<circle cx="384.30" cy="381.50" r="1.88" fill="#6EA84B" stroke="#4E7F37" stroke-width="1.0"/>
<circle cx="387.30" cy="381.50" r="1.88" fill="#6EA84B" stroke="#4E7F37" stroke-width="1.0"/>
<circle cx="381.80" cy="384.30" r="1.88" fill="#6EA84B" stroke="#4E7F37" stroke-width="1.0"/>
<circle cx="385.80" cy="384.60" r="1.88" fill="#6EA84B" stroke="#4E7F37" stroke-width="1.0"/>
<circle cx="389.60" cy="384.30" r="1.88" fill="#6EA84B" stroke="#4E7F37" stroke-width="1.0"/>
<circle cx="383.40" cy="386.60" r="1.88" fill="#6EA84B" stroke="#4E7F37" stroke-width="1.0"/>
<circle cx="387.60" cy="386.60" r="1.88" fill="#6EA84B" stroke="#4E7F37" stroke-width="1.0"/>
<circle cx="386.00" cy="375.80" r="1.95" fill="none" stroke="#5E9444" stroke-width="1.45"/>
<line x1="378.70" y1="380.00" x2="394.50" y2="380.00" stroke="#111" stroke-width="1.7"/>
<circle cx="402.30" cy="348.50" r="1.85" fill="#6EA84B" stroke="#4E7F37" stroke-width="1.0"/>
<circle cx="409.50" cy="355.40" r="1.85" fill="#6EA84B" stroke="#4E7F37" stroke-width="1.0"/>
<circle cx="409.30" cy="365.50" r="1.85" fill="#6EA84B" stroke="#4E7F37" stroke-width="1.0"/>
<circle cx="404.00" cy="369.50" r="1.85" fill="#6EA84B" stroke="#4E7F37" stroke-width="1.0"/>
<circle cx="413.00" cy="369.50" r="1.85" fill="#6EA84B" stroke="#4E7F37" stroke-width="1.0"/>
<circle cx="402.50" cy="372.60" r="1.85" fill="#6EA84B" stroke="#4E7F37" stroke-width="1.0"/>
<circle cx="409.30" cy="373.50" r="1.85" fill="#6EA84B" stroke="#4E7F37" stroke-width="1.0"/>
<circle cx="405.50" cy="376.50" r="1.85" fill="#6EA84B" stroke="#4E7F37" stroke-width="1.0"/>
<circle cx="409.30" cy="381.00" r="1.85" fill="#6EA84B" stroke="#4E7F37" stroke-width="1.0"/>
<circle cx="413.00" cy="381.00" r="1.85" fill="#6EA84B" stroke="#4E7F37" stroke-width="1.0"/>
<line x1="402.00" y1="366.00" x2="417.60" y2="366.00" stroke="#111" stroke-width="1.7"/>
<rect x="431.10" y="361.10" width="3.60" height="3.60" fill="none" stroke="#5E9444" stroke-width="1.5"/>
<rect x="431.10" y="373.80" width="3.60" height="3.60" fill="none" stroke="#5E9444" stroke-width="1.5"/>
<rect x="428.20" y="378.20" width="3.60" height="3.60" fill="#6EA84B" stroke="#4E7F37" stroke-width="1.0"/>
<rect x="433.00" y="378.20" width="3.60" height="3.60" fill="#6EA84B" stroke="#4E7F37" stroke-width="1.0"/>
<rect x="435.40" y="380.70" width="3.60" height="3.60" fill="#6EA84B" stroke="#4E7F37" stroke-width="1.0"/>
<rect x="426.60" y="381.20" width="3.60" height="3.60" fill="#6EA84B" stroke="#4E7F37" stroke-width="1.0"/>
<rect x="430.80" y="381.70" width="3.60" height="3.60" fill="#6EA84B" stroke="#4E7F37" stroke-width="1.0"/>
<rect x="434.60" y="383.70" width="3.60" height="3.60" fill="#6EA84B" stroke="#4E7F37" stroke-width="1.0"/>
<rect x="428.80" y="384.70" width="3.60" height="3.60" fill="#6EA84B" stroke="#4E7F37" stroke-width="1.0"/>
<rect x="432.80" y="385.00" width="3.60" height="3.60" fill="#6EA84B" stroke="#4E7F37" stroke-width="1.0"/>
<line x1="425.00" y1="377.50" x2="440.90" y2="377.50" stroke="#111" stroke-width="1.7"/>
<line x1="93.80" y1="640.80" x2="93.80" y2="763.80" stroke="#000" stroke-width="2.1"/>
<line x1="92.80" y1="762.80" x2="441.30" y2="762.80" stroke="#000" stroke-width="2.1"/>
<line x1="89.20" y1="762.40" x2="93.80" y2="762.40" stroke="#000" stroke-width="1.8"/>
<line x1="91.30" y1="750.69" x2="93.80" y2="750.69" stroke="#000" stroke-width="1.5"/>
<line x1="91.30" y1="743.84" x2="93.80" y2="743.84" stroke="#000" stroke-width="1.5"/>
<line x1="91.30" y1="738.98" x2="93.80" y2="738.98" stroke="#000" stroke-width="1.5"/>
<line x1="91.30" y1="735.21" x2="93.80" y2="735.21" stroke="#000" stroke-width="1.5"/>
<line x1="91.30" y1="732.13" x2="93.80" y2="732.13" stroke="#000" stroke-width="1.5"/>
<line x1="91.30" y1="729.53" x2="93.80" y2="729.53" stroke="#000" stroke-width="1.5"/>
<line x1="91.30" y1="727.27" x2="93.80" y2="727.27" stroke="#000" stroke-width="1.5"/>
<line x1="91.30" y1="725.28" x2="93.80" y2="725.28" stroke="#000" stroke-width="1.5"/>
<line x1="89.20" y1="723.50" x2="93.80" y2="723.50" stroke="#000" stroke-width="1.8"/>
<line x1="91.30" y1="711.79" x2="93.80" y2="711.79" stroke="#000" stroke-width="1.5"/>
<line x1="91.30" y1="704.94" x2="93.80" y2="704.94" stroke="#000" stroke-width="1.5"/>
<line x1="91.30" y1="700.08" x2="93.80" y2="700.08" stroke="#000" stroke-width="1.5"/>
<line x1="91.30" y1="696.31" x2="93.80" y2="696.31" stroke="#000" stroke-width="1.5"/>
<line x1="91.30" y1="693.23" x2="93.80" y2="693.23" stroke="#000" stroke-width="1.5"/>
<line x1="91.30" y1="690.63" x2="93.80" y2="690.63" stroke="#000" stroke-width="1.5"/>
<line x1="91.30" y1="688.37" x2="93.80" y2="688.37" stroke="#000" stroke-width="1.5"/>
<line x1="91.30" y1="686.38" x2="93.80" y2="686.38" stroke="#000" stroke-width="1.5"/>
<line x1="89.20" y1="684.60" x2="93.80" y2="684.60" stroke="#000" stroke-width="1.8"/>
<line x1="91.30" y1="672.89" x2="93.80" y2="672.89" stroke="#000" stroke-width="1.5"/>
<line x1="91.30" y1="666.04" x2="93.80" y2="666.04" stroke="#000" stroke-width="1.5"/>
<line x1="91.30" y1="661.18" x2="93.80" y2="661.18" stroke="#000" stroke-width="1.5"/>
<line x1="91.30" y1="657.41" x2="93.80" y2="657.41" stroke="#000" stroke-width="1.5"/>
<line x1="91.30" y1="654.33" x2="93.80" y2="654.33" stroke="#000" stroke-width="1.5"/>
<line x1="91.30" y1="651.73" x2="93.80" y2="651.73" stroke="#000" stroke-width="1.5"/>
<line x1="91.30" y1="649.47" x2="93.80" y2="649.47" stroke="#000" stroke-width="1.5"/>
<line x1="91.30" y1="647.48" x2="93.80" y2="647.48" stroke="#000" stroke-width="1.5"/>
<line x1="89.20" y1="645.70" x2="93.80" y2="645.70" stroke="#000" stroke-width="1.8"/>
<text x="75.64" y="765.90" font-family='"Liberation Sans", sans-serif' font-size="10.17" font-weight="normal" fill="#222" textLength="8.84" lengthAdjust="spacingAndGlyphs">1</text>
<text x="68.96" y="726.90" font-family='"Liberation Sans", sans-serif' font-size="9.89" font-weight="normal" fill="#222" textLength="15.28" lengthAdjust="spacingAndGlyphs">10</text>
<text x="62.14" y="688.00" font-family='"Liberation Sans", sans-serif' font-size="9.89" font-weight="normal" fill="#222" textLength="22.08" lengthAdjust="spacingAndGlyphs">100</text>
<text x="55.31" y="649.10" font-family='"Liberation Sans", sans-serif' font-size="9.89" font-weight="normal" fill="#222" textLength="28.90" lengthAdjust="spacingAndGlyphs">1000</text>
<text transform="translate(45.18,736.66) rotate(-90)" x="0" y="0" font-family='"Liberation Sans", sans-serif' font-size="12.11" font-weight="bold" fill="#222" textLength="67.75" lengthAdjust="spacingAndGlyphs">Blood loss (µl)</text>
<line x1="104.50" y1="762.80" x2="104.50" y2="767.00" stroke="#000" stroke-width="1.8"/>
<line x1="127.82" y1="762.80" x2="127.82" y2="767.00" stroke="#000" stroke-width="1.8"/>
<line x1="151.14" y1="762.80" x2="151.14" y2="767.00" stroke="#000" stroke-width="1.8"/>
<line x1="174.46" y1="762.80" x2="174.46" y2="767.00" stroke="#000" stroke-width="1.8"/>
<line x1="197.78" y1="762.80" x2="197.78" y2="767.00" stroke="#000" stroke-width="1.8"/>
<line x1="221.10" y1="762.80" x2="221.10" y2="767.00" stroke="#000" stroke-width="1.8"/>
<line x1="244.42" y1="762.80" x2="244.42" y2="767.00" stroke="#000" stroke-width="1.8"/>
<line x1="267.74" y1="762.80" x2="267.74" y2="767.00" stroke="#000" stroke-width="1.8"/>
<line x1="291.06" y1="762.80" x2="291.06" y2="767.00" stroke="#000" stroke-width="1.8"/>
<line x1="314.38" y1="762.80" x2="314.38" y2="767.00" stroke="#000" stroke-width="1.8"/>
<line x1="337.70" y1="762.80" x2="337.70" y2="767.00" stroke="#000" stroke-width="1.8"/>
<line x1="361.02" y1="762.80" x2="361.02" y2="767.00" stroke="#000" stroke-width="1.8"/>
<line x1="384.34" y1="762.80" x2="384.34" y2="767.00" stroke="#000" stroke-width="1.8"/>
<line x1="407.66" y1="762.80" x2="407.66" y2="767.00" stroke="#000" stroke-width="1.8"/>
<line x1="430.98" y1="762.80" x2="430.98" y2="767.00" stroke="#000" stroke-width="1.8"/>
<text transform="translate(107.85,793.95) rotate(-90)" x="0" y="0" font-family='"Liberation Sans", sans-serif' font-size="10.31" font-weight="normal" fill="#222" textLength="23.49" lengthAdjust="spacingAndGlyphs">Con</text>
<text transform="translate(131.17,776.28) rotate(-90)" x="0" y="0" font-family='"Liberation Sans", sans-serif' font-size="10.31" font-weight="normal" fill="#222" textLength="5.35" lengthAdjust="spacingAndGlyphs">0</text>
<text transform="translate(154.49,793.76) rotate(-90)" x="0" y="0" font-family='"Liberation Sans", sans-serif' font-size="10.31" font-weight="normal" fill="#222" textLength="22.96" lengthAdjust="spacingAndGlyphs">0.25</text>
<text transform="translate(177.81,786.56) rotate(-90)" x="0" y="0" font-family='"Liberation Sans", sans-serif' font-size="10.31" font-weight="normal" fill="#222" textLength="15.70" lengthAdjust="spacingAndGlyphs">1.0</text>
<text transform="translate(201.13,785.95) rotate(-90)" x="0" y="0" font-family='"Liberation Sans", sans-serif' font-size="10.31" font-weight="normal" fill="#222" textLength="15.07" lengthAdjust="spacingAndGlyphs">4.0</text>
<text transform="translate(247.77,793.95) rotate(-90)" x="0" y="0" font-family='"Liberation Sans", sans-serif' font-size="10.31" font-weight="normal" fill="#222" textLength="23.49" lengthAdjust="spacingAndGlyphs">Con</text>
<text transform="translate(271.09,776.28) rotate(-90)" x="0" y="0" font-family='"Liberation Sans", sans-serif' font-size="10.31" font-weight="normal" fill="#222" textLength="5.35" lengthAdjust="spacingAndGlyphs">0</text>
<text transform="translate(294.41,793.76) rotate(-90)" x="0" y="0" font-family='"Liberation Sans", sans-serif' font-size="10.31" font-weight="normal" fill="#222" textLength="22.96" lengthAdjust="spacingAndGlyphs">0.25</text>
<text transform="translate(317.73,786.56) rotate(-90)" x="0" y="0" font-family='"Liberation Sans", sans-serif' font-size="10.31" font-weight="normal" fill="#222" textLength="15.70" lengthAdjust="spacingAndGlyphs">1.0</text>
<text transform="translate(341.05,785.95) rotate(-90)" x="0" y="0" font-family='"Liberation Sans", sans-serif' font-size="10.31" font-weight="normal" fill="#222" textLength="15.07" lengthAdjust="spacingAndGlyphs">4.0</text>
<text transform="translate(387.69,793.95) rotate(-90)" x="0" y="0" font-family='"Liberation Sans", sans-serif' font-size="10.31" font-weight="normal" fill="#222" textLength="23.49" lengthAdjust="spacingAndGlyphs">Con</text>
<text transform="translate(411.01,776.28) rotate(-90)" x="0" y="0" font-family='"Liberation Sans", sans-serif' font-size="10.31" font-weight="normal" fill="#222" textLength="5.35" lengthAdjust="spacingAndGlyphs">0</text>
<text transform="translate(434.33,793.76) rotate(-90)" x="0" y="0" font-family='"Liberation Sans", sans-serif' font-size="10.31" font-weight="normal" fill="#222" textLength="22.96" lengthAdjust="spacingAndGlyphs">0.25</text>
<text x="446.03" y="775.39" font-family='"Liberation Sans", sans-serif' font-size="11.46" font-weight="normal" fill="#222" textLength="31.77" lengthAdjust="spacingAndGlyphs">rFVIIa</text>
<text x="446.19" y="787.30" font-family='"Liberation Sans", sans-serif' font-size="10.08" font-weight="normal" fill="#222" textLength="35.29" lengthAdjust="spacingAndGlyphs">mg/Kg</text>
<line x1="116.30" y1="801.50" x2="194.30" y2="801.50" stroke="#111" stroke-width="1.6"/>
<line x1="256.30" y1="801.50" x2="333.80" y2="801.50" stroke="#111" stroke-width="1.6"/>
<line x1="397.70" y1="801.30" x2="441.50" y2="801.30" stroke="#111" stroke-width="1.6"/>
<text x="124.98" y="816.89" font-family='"Liberation Sans", sans-serif' font-size="11.16" font-weight="normal" fill="#222" textLength="60.79" lengthAdjust="spacingAndGlyphs">Ab-induced</text>
<text x="136.48" y="830.88" font-family='"Liberation Sans", sans-serif' font-size="12.18" font-weight="normal" fill="#222" textLength="37.35" lengthAdjust="spacingAndGlyphs">Hem A</text>
<text x="264.98" y="816.89" font-family='"Liberation Sans", sans-serif' font-size="11.16" font-weight="normal" fill="#222" textLength="60.79" lengthAdjust="spacingAndGlyphs">Ab-induced</text>
<text x="276.48" y="830.88" font-family='"Liberation Sans", sans-serif' font-size="12.18" font-weight="normal" fill="#222" textLength="37.35" lengthAdjust="spacingAndGlyphs">Hem A</text>
<text x="389.48" y="814.89" font-family='"Liberation Sans", sans-serif' font-size="11.16" font-weight="normal" fill="#222" textLength="60.59" lengthAdjust="spacingAndGlyphs">Ab-induced</text>
<text x="401.02" y="828.88" font-family='"Liberation Sans", sans-serif' font-size="12.18" font-weight="normal" fill="#222" textLength="36.01" lengthAdjust="spacingAndGlyphs">Hem A</text>
<line x1="95.00" y1="837.60" x2="199.00" y2="837.60" stroke="#111" stroke-width="1.6"/>
<line x1="240.50" y1="837.60" x2="344.00" y2="837.60" stroke="#111" stroke-width="1.6"/>
<line x1="371.20" y1="837.60" x2="460.70" y2="837.60" stroke="#111" stroke-width="1.6"/>
<text transform="scale(0.62,1)" x="205.44" y="853.06" font-family='"Liberation Sans", sans-serif' font-size="13.61" font-weight="normal" fill="#222" stroke="#222" stroke-width="0.45" textLength="64.04" lengthAdjust="spacing">C57BL/6</text>
<text transform="scale(0.62,1)" x="433.88" y="853.46" font-family='"Liberation Sans", sans-serif' font-size="14.15" font-weight="normal" fill="#222" stroke="#222" stroke-width="0.45" textLength="76.79" lengthAdjust="spacing">Tie2-EPCR</text>
<text transform="scale(0.62,1)" x="635.78" y="853.46" font-family='"Liberation Sans", sans-serif' font-size="14.15" font-weight="normal" fill="#222" stroke="#222" stroke-width="0.45" textLength="70.33" lengthAdjust="spacing">EPCR-def</text>
<line x1="192.50" y1="549.50" x2="336.50" y2="549.50" stroke="#000" stroke-width="1.8"/>
<line x1="192.50" y1="549.50" x2="192.50" y2="708.00" stroke="#000" stroke-width="1.8"/>
<line x1="336.50" y1="549.50" x2="336.50" y2="695.50" stroke="#000" stroke-width="1.8"/>
<polygon points="259.10,541.20 259.86,542.75 261.57,543.00 260.34,544.20 260.63,545.90 259.10,545.10 257.57,545.90 257.86,544.20 256.63,543.00 258.34,542.75" fill="#111"/>
<polygon points="264.50,541.20 265.26,542.75 266.97,543.00 265.74,544.20 266.03,545.90 264.50,545.10 262.97,545.90 263.26,544.20 262.03,543.00 263.74,542.75" fill="#111"/>
<polygon points="269.90,541.20 270.66,542.75 272.37,543.00 271.14,544.20 271.43,545.90 269.90,545.10 268.37,545.90 268.66,544.20 267.43,543.00 269.14,542.75" fill="#111"/>
<line x1="172.00" y1="565.80" x2="312.00" y2="565.80" stroke="#000" stroke-width="1.8"/>
<line x1="172.00" y1="565.80" x2="172.00" y2="696.30" stroke="#000" stroke-width="1.8"/>
<line x1="312.00" y1="565.80" x2="312.00" y2="649.00" stroke="#000" stroke-width="1.8"/>
<polygon points="236.40,556.90 237.16,558.45 238.87,558.70 237.64,559.90 237.93,561.60 236.40,560.80 234.87,561.60 235.16,559.90 233.93,558.70 235.64,558.45" fill="#111"/>
<polygon points="241.80,556.90 242.56,558.45 244.27,558.70 243.04,559.90 243.33,561.60 241.80,560.80 240.27,561.60 240.56,559.90 239.33,558.70 241.04,558.45" fill="#111"/>
<polygon points="247.20,556.90 247.96,558.45 249.67,558.70 248.44,559.90 248.73,561.60 247.20,560.80 245.67,561.60 245.96,559.90 244.73,558.70 246.44,558.45" fill="#111"/>
<line x1="152.00" y1="578.80" x2="290.80" y2="578.80" stroke="#000" stroke-width="1.8"/>
<line x1="152.00" y1="578.80" x2="152.00" y2="676.50" stroke="#000" stroke-width="1.8"/>
<line x1="290.80" y1="578.80" x2="290.80" y2="649.20" stroke="#000" stroke-width="1.8"/>
<polygon points="215.90,570.40 216.66,571.95 218.37,572.20 217.14,573.40 217.43,575.10 215.90,574.30 214.37,575.10 214.66,573.40 213.43,572.20 215.14,571.95" fill="#111"/>
<polygon points="221.30,570.40 222.06,571.95 223.77,572.20 222.54,573.40 222.83,575.10 221.30,574.30 219.77,575.10 220.06,573.40 218.83,572.20 220.54,571.95" fill="#111"/>
<polygon points="226.70,570.40 227.46,571.95 229.17,572.20 227.94,573.40 228.23,575.10 226.70,574.30 225.17,575.10 225.46,573.40 224.23,572.20 225.94,571.95" fill="#111"/>
<line x1="117.00" y1="594.40" x2="408.30" y2="594.40" stroke="#000" stroke-width="1.8"/>
<line x1="117.00" y1="594.40" x2="117.00" y2="638.00" stroke="#000" stroke-width="1.8"/>
<line x1="408.30" y1="594.40" x2="408.30" y2="671.20" stroke="#000" stroke-width="1.8"/>
<polygon points="257.10,586.20 257.86,587.75 259.57,588.00 258.34,589.20 258.63,590.90 257.10,590.10 255.57,590.90 255.86,589.20 254.63,588.00 256.34,587.75" fill="#111"/>
<polygon points="262.50,586.20 263.26,587.75 264.97,588.00 263.74,589.20 264.03,590.90 262.50,590.10 260.97,590.90 261.26,589.20 260.03,588.00 261.74,587.75" fill="#111"/>
<polygon points="267.90,586.20 268.66,587.75 270.37,588.00 269.14,589.20 269.43,590.90 267.90,590.10 266.37,590.90 266.66,589.20 265.43,588.00 267.14,587.75" fill="#111"/>
<line x1="120.70" y1="621.30" x2="162.80" y2="621.30" stroke="#000" stroke-width="1.8"/>
<line x1="120.70" y1="621.30" x2="120.70" y2="637.00" stroke="#000" stroke-width="1.8"/>
<line x1="162.80" y1="621.30" x2="162.80" y2="666.00" stroke="#000" stroke-width="1.8"/>
<polygon points="131.60,612.90 132.36,614.45 134.07,614.70 132.84,615.90 133.13,617.60 131.60,616.80 130.07,617.60 130.36,615.90 129.13,614.70 130.84,614.45" fill="#111"/>
<polygon points="137.00,612.90 137.76,614.45 139.47,614.70 138.24,615.90 138.53,617.60 137.00,616.80 135.47,617.60 135.76,615.90 134.53,614.70 136.24,614.45" fill="#111"/>
<polygon points="142.40,612.90 143.16,614.45 144.87,614.70 143.64,615.90 143.93,617.60 142.40,616.80 140.87,617.60 141.16,615.90 139.93,614.70 141.64,614.45" fill="#111"/>
<line x1="143.20" y1="675.50" x2="202.50" y2="675.50" stroke="#000" stroke-width="1.8"/>
<line x1="260.00" y1="610.30" x2="331.40" y2="610.30" stroke="#000" stroke-width="1.8"/>
<line x1="260.00" y1="610.30" x2="260.00" y2="650.00" stroke="#000" stroke-width="1.8"/>
<line x1="331.40" y1="610.30" x2="331.40" y2="702.00" stroke="#000" stroke-width="1.8"/>
<polygon points="272.10,601.80 272.86,603.35 274.57,603.60 273.34,604.80 273.63,606.50 272.10,605.70 270.57,606.50 270.86,604.80 269.63,603.60 271.34,603.35" fill="#111"/>
<polygon points="277.50,601.80 278.26,603.35 279.97,603.60 278.74,604.80 279.03,606.50 277.50,605.70 275.97,606.50 276.26,604.80 275.03,603.60 276.74,603.35" fill="#111"/>
<polygon points="282.90,601.80 283.66,603.35 285.37,603.60 284.14,604.80 284.43,606.50 282.90,605.70 281.37,606.50 281.66,604.80 280.43,603.60 282.14,603.35" fill="#111"/>
<line x1="262.50" y1="622.00" x2="308.40" y2="622.00" stroke="#000" stroke-width="1.8"/>
<line x1="262.50" y1="622.00" x2="262.50" y2="650.00" stroke="#000" stroke-width="1.8"/>
<line x1="308.40" y1="622.00" x2="308.40" y2="649.20" stroke="#000" stroke-width="1.8"/>
<polygon points="277.50,613.80 278.23,615.29 279.88,615.53 278.69,616.69 278.97,618.32 277.50,617.55 276.03,618.32 276.31,616.69 275.12,615.53 276.77,615.29" fill="#111"/>
<line x1="265.00" y1="641.50" x2="297.20" y2="641.50" stroke="#000" stroke-width="1.8"/>
<text x="275.03" y="638.71" font-family='"Liberation Sans", sans-serif' font-size="9.12" font-weight="normal" fill="#222" textLength="12.40" lengthAdjust="spacingAndGlyphs">ns</text>
<line x1="369.40" y1="658.20" x2="424.40" y2="658.20" stroke="#000" stroke-width="1.8"/>
<line x1="369.40" y1="658.20" x2="369.40" y2="697.60" stroke="#000" stroke-width="1.8"/>
<line x1="424.40" y1="658.20" x2="424.40" y2="697.40" stroke="#000" stroke-width="1.8"/>
<text x="369.23" y="654.91" font-family='"Liberation Sans", sans-serif' font-size="9.49" font-weight="normal" fill="#222" textLength="12.40" lengthAdjust="spacingAndGlyphs">ns</text>
<line x1="383.80" y1="631.30" x2="402.80" y2="631.30" stroke="#000" stroke-width="1.8"/>
<line x1="383.80" y1="631.30" x2="383.80" y2="705.40" stroke="#000" stroke-width="1.8"/>
<line x1="402.80" y1="631.30" x2="402.80" y2="671.00" stroke="#000" stroke-width="1.8"/>
<text x="387.43" y="628.11" font-family='"Liberation Sans", sans-serif' font-size="9.49" font-weight="normal" fill="#222" textLength="12.40" lengthAdjust="spacingAndGlyphs">ns</text>
<line x1="409.60" y1="632.00" x2="429.00" y2="632.00" stroke="#000" stroke-width="1.8"/>
<line x1="409.60" y1="632.00" x2="409.60" y2="668.50" stroke="#000" stroke-width="1.8"/>
<line x1="429.00" y1="632.00" x2="429.00" y2="694.30" stroke="#000" stroke-width="1.8"/>
<text x="413.23" y="628.91" font-family='"Liberation Sans", sans-serif' font-size="9.49" font-weight="normal" fill="#222" textLength="12.40" lengthAdjust="spacingAndGlyphs">ns</text>
<circle cx="105.10" cy="709.70" r="1.95" fill="none" stroke="#850A26" stroke-width="1.45"/>
<circle cx="108.50" cy="720.20" r="1.95" fill="none" stroke="#850A26" stroke-width="1.45"/>
<circle cx="104.80" cy="721.50" r="1.95" fill="none" stroke="#850A26" stroke-width="1.45"/>
<circle cx="98.40" cy="727.90" r="1.95" fill="none" stroke="#850A26" stroke-width="1.45"/>
<circle cx="105.40" cy="728.50" r="1.95" fill="none" stroke="#850A26" stroke-width="1.45"/>
<circle cx="101.70" cy="742.80" r="1.95" fill="none" stroke="#850A26" stroke-width="1.45"/>
<circle cx="105.10" cy="747.80" r="1.95" fill="none" stroke="#850A26" stroke-width="1.45"/>
<circle cx="108.90" cy="747.40" r="1.95" fill="none" stroke="#850A26" stroke-width="1.45"/>
<line x1="96.40" y1="726.20" x2="113.20" y2="726.20" stroke="#111" stroke-width="1.7"/>
<circle cx="121.20" cy="656.40" r="1.88" fill="#B8083A" stroke="#6E0019" stroke-width="1.0"/>
<circle cx="128.40" cy="656.80" r="1.88" fill="#B8083A" stroke="#6E0019" stroke-width="1.0"/>
<circle cx="132.00" cy="653.10" r="1.88" fill="#B8083A" stroke="#6E0019" stroke-width="1.0"/>
<circle cx="131.60" cy="670.30" r="1.88" fill="#B8083A" stroke="#6E0019" stroke-width="1.0"/>
<circle cx="128.40" cy="676.60" r="1.88" fill="#B8083A" stroke="#6E0019" stroke-width="1.0"/>
<circle cx="121.20" cy="688.70" r="1.88" fill="#B8083A" stroke="#6E0019" stroke-width="1.0"/>
<circle cx="128.40" cy="689.40" r="1.88" fill="#B8083A" stroke="#6E0019" stroke-width="1.0"/>
<circle cx="131.60" cy="688.00" r="1.88" fill="#B8083A" stroke="#6E0019" stroke-width="1.0"/>
<circle cx="128.40" cy="697.50" r="1.88" fill="#B8083A" stroke="#6E0019" stroke-width="1.0"/>
<circle cx="131.60" cy="695.90" r="1.88" fill="#B8083A" stroke="#6E0019" stroke-width="1.0"/>
<line x1="120.80" y1="669.60" x2="136.00" y2="669.60" stroke="#111" stroke-width="1.7"/>
<rect x="149.70" y="684.90" width="3.60" height="3.60" fill="none" stroke="#850A26" stroke-width="1.5"/>
<rect x="151.70" y="697.70" width="3.60" height="3.60" fill="none" stroke="#850A26" stroke-width="1.5"/>
<rect x="142.70" y="703.80" width="3.60" height="3.60" fill="none" stroke="#850A26" stroke-width="1.5"/>
<rect x="146.20" y="703.80" width="3.60" height="3.60" fill="none" stroke="#850A26" stroke-width="1.5"/>
<rect x="149.70" y="703.80" width="3.60" height="3.60" fill="none" stroke="#850A26" stroke-width="1.5"/>
<rect x="153.50" y="703.80" width="3.60" height="3.60" fill="none" stroke="#850A26" stroke-width="1.5"/>
<rect x="150.40" y="703.60" width="3.60" height="3.60" fill="none" stroke="#850A26" stroke-width="1.5"/>
<rect x="153.10" y="707.40" width="3.60" height="3.60" fill="none" stroke="#850A26" stroke-width="1.5"/>
<rect x="149.30" y="711.70" width="3.60" height="3.60" fill="none" stroke="#850A26" stroke-width="1.5"/>
<line x1="142.80" y1="702.20" x2="159.30" y2="702.20" stroke="#111" stroke-width="1.7"/>
<rect x="169.30" y="704.30" width="3.60" height="3.60" fill="#B8083A" stroke="#6E0019" stroke-width="1.0"/>
<rect x="176.70" y="706.40" width="3.60" height="3.60" fill="#B8083A" stroke="#6E0019" stroke-width="1.0"/>
<rect x="173.00" y="709.10" width="3.60" height="3.60" fill="#B8083A" stroke="#6E0019" stroke-width="1.0"/>
<rect x="165.70" y="717.70" width="3.60" height="3.60" fill="#B8083A" stroke="#6E0019" stroke-width="1.0"/>
<rect x="169.70" y="714.70" width="3.60" height="3.60" fill="#B8083A" stroke="#6E0019" stroke-width="1.0"/>
<rect x="175.70" y="714.70" width="3.60" height="3.60" fill="#B8083A" stroke="#6E0019" stroke-width="1.0"/>
<rect x="168.20" y="720.20" width="3.60" height="3.60" fill="#B8083A" stroke="#6E0019" stroke-width="1.0"/>
<rect x="173.00" y="721.80" width="3.60" height="3.60" fill="#B8083A" stroke="#6E0019" stroke-width="1.0"/>
<rect x="169.30" y="727.10" width="3.60" height="3.60" fill="#B8083A" stroke="#6E0019" stroke-width="1.0"/>
<rect x="176.70" y="727.10" width="3.60" height="3.60" fill="#B8083A" stroke="#6E0019" stroke-width="1.0"/>
<rect x="173.00" y="731.80" width="3.60" height="3.60" fill="#B8083A" stroke="#6E0019" stroke-width="1.0"/>
<line x1="166.30" y1="718.30" x2="182.40" y2="718.30" stroke="#111" stroke-width="1.7"/>
<polygon points="194.70,728.10 192.75,732.05 196.65,732.05" fill="none" stroke="#850A26" stroke-width="1.5" stroke-linejoin="miter"/>
<polygon points="198.40,730.40 196.45,734.35 200.35,734.35" fill="none" stroke="#850A26" stroke-width="1.5" stroke-linejoin="miter"/>
<polygon points="201.60,729.70 199.65,733.65 203.55,733.65" fill="none" stroke="#850A26" stroke-width="1.5" stroke-linejoin="miter"/>
<polygon points="191.00,736.60 189.05,740.55 192.95,740.55" fill="none" stroke="#850A26" stroke-width="1.5" stroke-linejoin="miter"/>
<polygon points="195.00,738.50 193.05,742.45 196.95,742.45" fill="none" stroke="#850A26" stroke-width="1.5" stroke-linejoin="miter"/>
<polygon points="199.00,739.60 197.05,743.55 200.95,743.55" fill="none" stroke="#850A26" stroke-width="1.5" stroke-linejoin="miter"/>
<polygon points="202.20,738.50 200.25,742.45 204.15,742.45" fill="none" stroke="#850A26" stroke-width="1.5" stroke-linejoin="miter"/>
<polygon points="196.00,742.00 194.05,745.95 197.95,745.95" fill="none" stroke="#850A26" stroke-width="1.5" stroke-linejoin="miter"/>
<polygon points="198.40,745.10 196.45,749.05 200.35,749.05" fill="none" stroke="#850A26" stroke-width="1.5" stroke-linejoin="miter"/>
<line x1="188.50" y1="737.20" x2="205.80" y2="737.20" stroke="#111" stroke-width="1.7"/>
<circle cx="244.40" cy="713.60" r="1.95" fill="none" stroke="#1A2E58" stroke-width="1.45"/>
<circle cx="244.40" cy="730.60" r="1.95" fill="none" stroke="#1A2E58" stroke-width="1.45"/>
<circle cx="242.70" cy="733.40" r="1.95" fill="none" stroke="#1A2E58" stroke-width="1.45"/>
<circle cx="237.50" cy="739.20" r="1.95" fill="none" stroke="#1A2E58" stroke-width="1.45"/>
<circle cx="244.40" cy="740.40" r="1.95" fill="none" stroke="#1A2E58" stroke-width="1.45"/>
<circle cx="247.90" cy="738.10" r="1.95" fill="none" stroke="#1A2E58" stroke-width="1.45"/>
<circle cx="247.90" cy="741.50" r="1.95" fill="none" stroke="#1A2E58" stroke-width="1.45"/>
<circle cx="244.40" cy="747.90" r="1.95" fill="none" stroke="#1A2E58" stroke-width="1.45"/>
<line x1="237.20" y1="732.90" x2="252.10" y2="732.90" stroke="#111" stroke-width="1.7"/>
<circle cx="260.30" cy="658.50" r="1.88" fill="#2F4E88" stroke="#17284C" stroke-width="1.0"/>
<circle cx="267.60" cy="661.20" r="1.88" fill="#2F4E88" stroke="#17284C" stroke-width="1.0"/>
<circle cx="271.10" cy="654.20" r="1.88" fill="#2F4E88" stroke="#17284C" stroke-width="1.0"/>
<circle cx="263.90" cy="681.10" r="1.88" fill="#2F4E88" stroke="#17284C" stroke-width="1.0"/>
<circle cx="267.60" cy="679.30" r="1.88" fill="#2F4E88" stroke="#17284C" stroke-width="1.0"/>
<circle cx="271.10" cy="678.40" r="1.88" fill="#2F4E88" stroke="#17284C" stroke-width="1.0"/>
<circle cx="271.10" cy="682.70" r="1.88" fill="#2F4E88" stroke="#17284C" stroke-width="1.0"/>
<circle cx="260.30" cy="686.00" r="1.88" fill="#2F4E88" stroke="#17284C" stroke-width="1.0"/>
<circle cx="267.60" cy="687.80" r="1.88" fill="#2F4E88" stroke="#17284C" stroke-width="1.0"/>
<circle cx="267.60" cy="709.40" r="1.88" fill="#2F4E88" stroke="#17284C" stroke-width="1.0"/>
<line x1="259.90" y1="671.90" x2="275.60" y2="671.90" stroke="#111" stroke-width="1.7"/>
<rect x="281.90" y="655.30" width="3.60" height="3.60" fill="none" stroke="#1A2E58" stroke-width="1.5"/>
<rect x="288.70" y="657.30" width="3.60" height="3.60" fill="none" stroke="#1A2E58" stroke-width="1.5"/>
<rect x="292.40" y="654.20" width="3.60" height="3.60" fill="none" stroke="#1A2E58" stroke-width="1.5"/>
<rect x="292.40" y="673.10" width="3.60" height="3.60" fill="none" stroke="#1A2E58" stroke-width="1.5"/>
<rect x="289.10" y="679.30" width="3.60" height="3.60" fill="none" stroke="#1A2E58" stroke-width="1.5"/>
<rect x="289.10" y="684.90" width="3.60" height="3.60" fill="none" stroke="#1A2E58" stroke-width="1.5"/>
<rect x="281.70" y="688.30" width="3.60" height="3.60" fill="none" stroke="#1A2E58" stroke-width="1.5"/>
<rect x="285.70" y="686.00" width="3.60" height="3.60" fill="none" stroke="#1A2E58" stroke-width="1.5"/>
<rect x="292.40" y="686.00" width="3.60" height="3.60" fill="none" stroke="#1A2E58" stroke-width="1.5"/>
<rect x="289.10" y="690.30" width="3.60" height="3.60" fill="none" stroke="#1A2E58" stroke-width="1.5"/>
<rect x="289.10" y="701.70" width="3.60" height="3.60" fill="none" stroke="#1A2E58" stroke-width="1.5"/>
<rect x="292.40" y="701.10" width="3.60" height="3.60" fill="none" stroke="#1A2E58" stroke-width="1.5"/>
<line x1="283.50" y1="673.00" x2="298.50" y2="673.00" stroke="#111" stroke-width="1.7"/>
<rect x="312.30" y="658.60" width="3.60" height="3.60" fill="#2F4E88" stroke="#17284C" stroke-width="1.0"/>
<rect x="312.30" y="669.50" width="3.60" height="3.60" fill="#2F4E88" stroke="#17284C" stroke-width="1.0"/>
<rect x="303.70" y="687.20" width="3.60" height="3.60" fill="#2F4E88" stroke="#17284C" stroke-width="1.0"/>
<rect x="312.30" y="688.70" width="3.60" height="3.60" fill="#2F4E88" stroke="#17284C" stroke-width="1.0"/>
<rect x="316.20" y="684.70" width="3.60" height="3.60" fill="#2F4E88" stroke="#17284C" stroke-width="1.0"/>
<rect x="312.30" y="700.70" width="3.60" height="3.60" fill="#2F4E88" stroke="#17284C" stroke-width="1.0"/>
<rect x="316.20" y="700.00" width="3.60" height="3.60" fill="#2F4E88" stroke="#17284C" stroke-width="1.0"/>
<rect x="303.70" y="706.40" width="3.60" height="3.60" fill="#2F4E88" stroke="#17284C" stroke-width="1.0"/>
<rect x="312.30" y="707.90" width="3.60" height="3.60" fill="#2F4E88" stroke="#17284C" stroke-width="1.0"/>
<rect x="307.20" y="713.70" width="3.60" height="3.60" fill="#2F4E88" stroke="#17284C" stroke-width="1.0"/>
<rect x="312.20" y="717.60" width="3.60" height="3.60" fill="#2F4E88" stroke="#17284C" stroke-width="1.0"/>
<rect x="316.70" y="714.20" width="3.60" height="3.60" fill="#2F4E88" stroke="#17284C" stroke-width="1.0"/>
<line x1="305.20" y1="687.10" x2="321.60" y2="687.10" stroke="#111" stroke-width="1.7"/>
<polygon points="330.40,713.78 328.50,718.13 332.30,718.13" fill="none" stroke="#1A2E58" stroke-width="1.5" stroke-linejoin="miter"/>
<polygon points="337.30,711.10 335.40,715.05 339.20,715.05" fill="none" stroke="#1A2E58" stroke-width="1.5" stroke-linejoin="miter"/>
<polygon points="340.80,711.10 338.90,715.05 342.70,715.05" fill="none" stroke="#1A2E58" stroke-width="1.5" stroke-linejoin="miter"/>
<polygon points="337.30,719.30 331.10,730.60 343.80,730.60" fill="#2F4E88" stroke="#17284C" stroke-width="0.8" stroke-linejoin="round"/>
<polygon points="337.60,731.00 334.30,735.70 340.80,735.70" fill="#2F4E88" stroke="#17284C" stroke-width="0.8" stroke-linejoin="round"/>
<line x1="329.50" y1="722.50" x2="345.20" y2="722.50" stroke="#111" stroke-width="1.7"/>
<circle cx="383.50" cy="717.20" r="1.95" fill="none" stroke="#5E9444" stroke-width="1.45"/>
<circle cx="382.20" cy="720.80" r="1.95" fill="none" stroke="#5E9444" stroke-width="1.45"/>
<circle cx="385.50" cy="720.80" r="1.95" fill="none" stroke="#5E9444" stroke-width="1.45"/>
<circle cx="380.30" cy="724.30" r="1.95" fill="none" stroke="#5E9444" stroke-width="1.45"/>
<circle cx="383.80" cy="724.30" r="1.95" fill="none" stroke="#5E9444" stroke-width="1.45"/>
<circle cx="387.20" cy="724.30" r="1.95" fill="none" stroke="#5E9444" stroke-width="1.45"/>
<circle cx="380.10" cy="728.70" r="1.95" fill="none" stroke="#5E9444" stroke-width="1.45"/>
<circle cx="376.60" cy="733.80" r="1.95" fill="none" stroke="#5E9444" stroke-width="1.45"/>
<circle cx="387.20" cy="731.70" r="1.95" fill="none" stroke="#5E9444" stroke-width="1.45"/>
<circle cx="383.50" cy="735.40" r="1.95" fill="none" stroke="#5E9444" stroke-width="1.45"/>
<circle cx="383.50" cy="748.10" r="1.95" fill="none" stroke="#5E9444" stroke-width="1.45"/>
<line x1="376.20" y1="726.40" x2="391.80" y2="726.40" stroke="#111" stroke-width="1.7"/>
<circle cx="406.50" cy="673.50" r="1.85" fill="#6EA84B" stroke="#4E7F37" stroke-width="1.0"/>
<circle cx="410.40" cy="697.30" r="1.85" fill="#6EA84B" stroke="#4E7F37" stroke-width="1.0"/>
<circle cx="406.50" cy="703.50" r="1.85" fill="#6EA84B" stroke="#4E7F37" stroke-width="1.0"/>
<circle cx="400.10" cy="711.20" r="1.85" fill="#6EA84B" stroke="#4E7F37" stroke-width="1.0"/>
<circle cx="406.50" cy="714.50" r="1.85" fill="#6EA84B" stroke="#4E7F37" stroke-width="1.0"/>
<circle cx="406.50" cy="723.50" r="1.85" fill="#6EA84B" stroke="#4E7F37" stroke-width="1.0"/>
<circle cx="400.10" cy="732.70" r="1.85" fill="#6EA84B" stroke="#4E7F37" stroke-width="1.0"/>
<circle cx="406.50" cy="734.20" r="1.85" fill="#6EA84B" stroke="#4E7F37" stroke-width="1.0"/>
<circle cx="406.50" cy="745.80" r="1.85" fill="#6EA84B" stroke="#4E7F37" stroke-width="1.0"/>
<line x1="399.20" y1="701.60" x2="415.00" y2="701.60" stroke="#111" stroke-width="1.7"/>
<rect x="420.90" y="707.80" width="3.60" height="3.60" fill="none" stroke="#5E9444" stroke-width="1.5"/>
<rect x="428.10" y="708.60" width="3.60" height="3.60" fill="none" stroke="#5E9444" stroke-width="1.5"/>
<rect x="424.70" y="717.00" width="3.60" height="3.60" fill="none" stroke="#5E9444" stroke-width="1.5"/>
<rect x="429.70" y="716.30" width="3.60" height="3.60" fill="none" stroke="#5E9444" stroke-width="1.5"/>
<rect x="432.10" y="720.40" width="3.60" height="3.60" fill="none" stroke="#5E9444" stroke-width="1.5"/>
<rect x="428.60" y="721.40" width="3.60" height="3.60" fill="none" stroke="#5E9444" stroke-width="1.5"/>
<rect x="420.90" y="724.00" width="3.60" height="3.60" fill="none" stroke="#5E9444" stroke-width="1.5"/>
<rect x="428.20" y="729.00" width="3.60" height="3.60" fill="none" stroke="#5E9444" stroke-width="1.5"/>
<rect x="428.20" y="735.50" width="3.60" height="3.60" fill="none" stroke="#5E9444" stroke-width="1.5"/>
<line x1="422.70" y1="720.10" x2="437.60" y2="720.10" stroke="#111" stroke-width="1.7"/>
<rect x="97.50" y="938.80" width="14.80" height="80.80" fill="#A4002A"/>
<line x1="104.90" y1="931.80" x2="104.90" y2="938.80" stroke="#000" stroke-width="1.8"/>
<line x1="101.10" y1="932.70" x2="108.70" y2="932.70" stroke="#000" stroke-width="1.8"/>
<rect x="119.80" y="939.50" width="14.80" height="80.10" fill="#A4002A"/>
<line x1="127.20" y1="930.80" x2="127.20" y2="939.50" stroke="#000" stroke-width="1.8"/>
<line x1="123.40" y1="931.70" x2="131.00" y2="931.70" stroke="#000" stroke-width="1.8"/>
<rect x="142.00" y="935.00" width="14.80" height="84.60" fill="#A4002A"/>
<line x1="149.40" y1="927.00" x2="149.40" y2="935.00" stroke="#000" stroke-width="1.8"/>
<line x1="145.60" y1="927.90" x2="153.20" y2="927.90" stroke="#000" stroke-width="1.8"/>
<rect x="164.30" y="931.80" width="14.80" height="87.80" fill="#A4002A"/>
<line x1="171.70" y1="922.00" x2="171.70" y2="931.80" stroke="#000" stroke-width="1.8"/>
<line x1="167.90" y1="922.90" x2="175.50" y2="922.90" stroke="#000" stroke-width="1.8"/>
<rect x="186.40" y="972.00" width="14.80" height="47.60" fill="#A4002A"/>
<line x1="193.80" y1="967.00" x2="193.80" y2="972.00" stroke="#000" stroke-width="1.8"/>
<line x1="190.00" y1="967.90" x2="197.60" y2="967.90" stroke="#000" stroke-width="1.8"/>
<rect x="208.50" y="953.30" width="14.80" height="66.30" fill="#A4002A"/>
<line x1="215.90" y1="946.80" x2="215.90" y2="953.30" stroke="#000" stroke-width="1.8"/>
<line x1="212.10" y1="947.70" x2="219.70" y2="947.70" stroke="#000" stroke-width="1.8"/>
<rect x="230.80" y="943.30" width="14.80" height="76.30" fill="#A4002A"/>
<line x1="238.20" y1="936.30" x2="238.20" y2="943.30" stroke="#000" stroke-width="1.8"/>
<line x1="234.40" y1="937.20" x2="242.00" y2="937.20" stroke="#000" stroke-width="1.8"/>
<rect x="253.20" y="931.80" width="14.80" height="87.80" fill="#A4002A"/>
<line x1="260.60" y1="916.80" x2="260.60" y2="931.80" stroke="#000" stroke-width="1.8"/>
<line x1="256.80" y1="917.70" x2="264.40" y2="917.70" stroke="#000" stroke-width="1.8"/>
<line x1="92.80" y1="902.60" x2="272.30" y2="902.60" stroke="#000" stroke-width="1.7"/>
<line x1="271.50" y1="902.60" x2="271.50" y2="1020.60" stroke="#000" stroke-width="1.7"/>
<line x1="93.80" y1="901.75" x2="93.80" y2="1020.60" stroke="#000" stroke-width="2.0"/>
<line x1="92.80" y1="1019.60" x2="272.30" y2="1019.60" stroke="#000" stroke-width="2.0"/>
<line x1="182.30" y1="902.60" x2="182.30" y2="1019.60" stroke="#000" stroke-width="1.8"/>
<line x1="90.20" y1="1019.60" x2="93.80" y2="1019.60" stroke="#000" stroke-width="1.8"/>
<line x1="92.00" y1="1014.42" x2="93.80" y2="1014.42" stroke="#000" stroke-width="1.5"/>
<line x1="92.00" y1="1009.24" x2="93.80" y2="1009.24" stroke="#000" stroke-width="1.5"/>
<line x1="92.00" y1="1004.06" x2="93.80" y2="1004.06" stroke="#000" stroke-width="1.5"/>
<line x1="92.00" y1="998.88" x2="93.80" y2="998.88" stroke="#000" stroke-width="1.5"/>
<line x1="90.20" y1="993.70" x2="93.80" y2="993.70" stroke="#000" stroke-width="1.8"/>
<line x1="92.00" y1="988.52" x2="93.80" y2="988.52" stroke="#000" stroke-width="1.5"/>
<line x1="92.00" y1="983.34" x2="93.80" y2="983.34" stroke="#000" stroke-width="1.5"/>
<line x1="92.00" y1="978.16" x2="93.80" y2="978.16" stroke="#000" stroke-width="1.5"/>
<line x1="92.00" y1="972.98" x2="93.80" y2="972.98" stroke="#000" stroke-width="1.5"/>
<line x1="90.20" y1="967.80" x2="93.80" y2="967.80" stroke="#000" stroke-width="1.8"/>
<line x1="92.00" y1="962.62" x2="93.80" y2="962.62" stroke="#000" stroke-width="1.5"/>
<line x1="92.00" y1="957.44" x2="93.80" y2="957.44" stroke="#000" stroke-width="1.5"/>
<line x1="92.00" y1="952.26" x2="93.80" y2="952.26" stroke="#000" stroke-width="1.5"/>
<line x1="92.00" y1="947.08" x2="93.80" y2="947.08" stroke="#000" stroke-width="1.5"/>
<line x1="90.20" y1="941.90" x2="93.80" y2="941.90" stroke="#000" stroke-width="1.8"/>
<line x1="92.00" y1="936.72" x2="93.80" y2="936.72" stroke="#000" stroke-width="1.5"/>
<line x1="92.00" y1="931.54" x2="93.80" y2="931.54" stroke="#000" stroke-width="1.5"/>
<line x1="92.00" y1="926.36" x2="93.80" y2="926.36" stroke="#000" stroke-width="1.5"/>
<line x1="92.00" y1="921.18" x2="93.80" y2="921.18" stroke="#000" stroke-width="1.5"/>
<line x1="90.20" y1="916.00" x2="93.80" y2="916.00" stroke="#000" stroke-width="1.8"/>
<line x1="92.00" y1="910.82" x2="93.80" y2="910.82" stroke="#000" stroke-width="1.5"/>
<line x1="92.00" y1="905.64" x2="93.80" y2="905.64" stroke="#000" stroke-width="1.5"/>
<text x="78.56" y="1023.40" font-family='"Liberation Sans", sans-serif' font-size="10.17" font-weight="normal" fill="#222" textLength="7.68" lengthAdjust="spacingAndGlyphs">0</text>
<text x="77.94" y="997.60" font-family='"Liberation Sans", sans-serif' font-size="10.47" font-weight="normal" fill="#222" textLength="8.52" lengthAdjust="spacingAndGlyphs">1</text>
<text x="78.38" y="971.70" font-family='"Liberation Sans", sans-serif' font-size="10.32" font-weight="normal" fill="#222" textLength="8.05" lengthAdjust="spacingAndGlyphs">2</text>
<text x="78.57" y="945.70" font-family='"Liberation Sans", sans-serif' font-size="10.17" font-weight="normal" fill="#222" textLength="7.74" lengthAdjust="spacingAndGlyphs">3</text>
<text x="78.80" y="919.90" font-family='"Liberation Sans", sans-serif' font-size="10.47" font-weight="normal" fill="#222" textLength="7.28" lengthAdjust="spacingAndGlyphs">4</text>
<text transform="translate(52.76,1001.73) rotate(-90)" x="0" y="0" font-family='"Liberation Sans", sans-serif' font-size="14.15" font-weight="bold" fill="#222" textLength="70.21" lengthAdjust="spacingAndGlyphs">Protein C levels</text>
<text transform="translate(68.38,1010.13) rotate(-90)" x="0" y="0" font-family='"Liberation Sans", sans-serif' font-size="12.38" font-weight="bold" fill="#222" textLength="84.85" lengthAdjust="spacingAndGlyphs">in plasma (µg/ml)</text>
<line x1="105.00" y1="919.50" x2="175.00" y2="919.50" stroke="#000" stroke-width="1.8"/>
<text x="131.96" y="915.39" font-family='"Liberation Sans", sans-serif' font-size="10.95" font-weight="normal" fill="#222" textLength="16.61" lengthAdjust="spacingAndGlyphs">ns</text>
<polygon points="215.80,936.20 216.56,937.75 218.27,938.00 217.04,939.20 217.33,940.90 215.80,940.10 214.27,940.90 214.56,939.20 213.33,938.00 215.04,937.75" fill="#111"/>
<polygon points="238.30,924.90 239.06,926.45 240.77,926.70 239.54,927.90 239.83,929.60 238.30,928.80 236.77,929.60 237.06,927.90 235.83,926.70 237.54,926.45" fill="#111"/>
<polygon points="260.50,906.20 261.26,907.75 262.97,908.00 261.74,909.20 262.03,910.90 260.50,910.10 258.97,910.90 259.26,909.20 258.03,908.00 259.74,907.75" fill="#111"/>
<line x1="104.90" y1="1019.60" x2="104.90" y2="1023.50" stroke="#000" stroke-width="1.8"/>
<text transform="translate(109.50,1033.50) rotate(-45)" x="0" y="0" font-family='"Liberation Sans", sans-serif' font-size="12" fill="#222" text-anchor="end" textLength="6.67" lengthAdjust="spacingAndGlyphs">0</text>
<line x1="127.20" y1="1019.60" x2="127.20" y2="1023.50" stroke="#000" stroke-width="1.8"/>
<text transform="translate(131.80,1033.50) rotate(-45)" x="0" y="0" font-family='"Liberation Sans", sans-serif' font-size="12" fill="#222" text-anchor="end" textLength="23.36" lengthAdjust="spacingAndGlyphs">0.25</text>
<line x1="149.40" y1="1019.60" x2="149.40" y2="1023.50" stroke="#000" stroke-width="1.8"/>
<text transform="translate(154.00,1033.50) rotate(-45)" x="0" y="0" font-family='"Liberation Sans", sans-serif' font-size="12" fill="#222" text-anchor="end" textLength="16.68" lengthAdjust="spacingAndGlyphs">1.0</text>
<line x1="171.70" y1="1019.60" x2="171.70" y2="1023.50" stroke="#000" stroke-width="1.8"/>
<text transform="translate(176.30,1033.50) rotate(-45)" x="0" y="0" font-family='"Liberation Sans", sans-serif' font-size="12" fill="#222" text-anchor="end" textLength="16.68" lengthAdjust="spacingAndGlyphs">4.0</text>
<line x1="193.80" y1="1019.60" x2="193.80" y2="1023.50" stroke="#000" stroke-width="1.8"/>
<text transform="translate(198.40,1033.50) rotate(-45)" x="0" y="0" font-family='"Liberation Sans", sans-serif' font-size="12" fill="#222" text-anchor="end" textLength="6.67" lengthAdjust="spacingAndGlyphs">0</text>
<line x1="215.90" y1="1019.60" x2="215.90" y2="1023.50" stroke="#000" stroke-width="1.8"/>
<text transform="translate(220.50,1033.50) rotate(-45)" x="0" y="0" font-family='"Liberation Sans", sans-serif' font-size="12" fill="#222" text-anchor="end" textLength="23.36" lengthAdjust="spacingAndGlyphs">0.25</text>
<line x1="238.20" y1="1019.60" x2="238.20" y2="1023.50" stroke="#000" stroke-width="1.8"/>
<text transform="translate(242.80,1033.50) rotate(-45)" x="0" y="0" font-family='"Liberation Sans", sans-serif' font-size="12" fill="#222" text-anchor="end" textLength="16.68" lengthAdjust="spacingAndGlyphs">1.0</text>
<line x1="260.60" y1="1019.60" x2="260.60" y2="1023.50" stroke="#000" stroke-width="1.8"/>
<text transform="translate(265.20,1033.50) rotate(-45)" x="0" y="0" font-family='"Liberation Sans", sans-serif' font-size="12" fill="#222" text-anchor="end" textLength="16.68" lengthAdjust="spacingAndGlyphs">4.0</text>
<line x1="97.50" y1="1056.50" x2="175.50" y2="1056.50" stroke="#111" stroke-width="1.6"/>
<line x1="190.00" y1="1056.50" x2="267.50" y2="1056.50" stroke="#111" stroke-width="1.6"/>
<text transform="scale(0.62,1)" x="187.84" y="1072.86" font-family='"Liberation Sans", sans-serif' font-size="13.88" font-weight="normal" fill="#222" stroke="#222" stroke-width="0.45" textLength="63.10" lengthAdjust="spacing">C57BL/6</text>
<text transform="scale(0.62,1)" x="329.37" y="1072.66" font-family='"Liberation Sans", sans-serif' font-size="13.88" font-weight="normal" fill="#222" stroke="#222" stroke-width="0.45" textLength="77.58" lengthAdjust="spacing">Tie2-EPCR</text>
<text x="276.16" y="1035.90" font-family='"Liberation Sans", sans-serif' font-size="10.46" font-weight="normal" fill="#222" textLength="30.54" lengthAdjust="spacingAndGlyphs">rFVIIa</text>
<text x="276.25" y="1048.57" font-family='"Liberation Sans", sans-serif' font-size="10.72" font-weight="normal" fill="#222" textLength="43.21" lengthAdjust="spacingAndGlyphs">(mg/Kg)</text>
<rect x="1" y="1" width="518" height="1084" fill="none" stroke="#000" stroke-width="2"/>
</svg>
</body></html>
